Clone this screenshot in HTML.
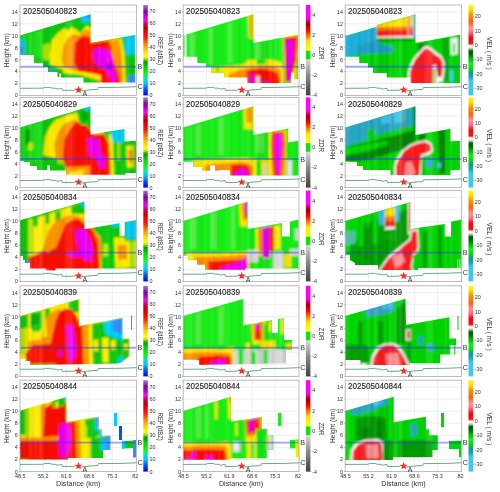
<!DOCTYPE html>
<html><head><meta charset="utf-8"><style>
html,body{margin:0;padding:0;background:#fff;}
svg{display:block;font-family:"Liberation Sans", sans-serif;will-change:transform;}
</style></head><body>
<svg width="500" height="492" viewBox="0 0 500 492">
<defs><linearGradient id="cb0" x1="0" y1="0" x2="0" y2="1"><stop offset="0.0000" stop-color="#9080e0"/><stop offset="0.0728" stop-color="#8000a0"/><stop offset="0.1656" stop-color="#ff00ff"/><stop offset="0.2053" stop-color="#d00060"/><stop offset="0.2583" stop-color="#c00000"/><stop offset="0.3113" stop-color="#ff0000"/><stop offset="0.3642" stop-color="#ff2000"/><stop offset="0.4305" stop-color="#ff8000"/><stop offset="0.4967" stop-color="#ffc800"/><stop offset="0.5629" stop-color="#ffff00"/><stop offset="0.5894" stop-color="#c8e600"/><stop offset="0.6291" stop-color="#00a000"/><stop offset="0.6954" stop-color="#00e000"/><stop offset="0.7616" stop-color="#00ff00"/><stop offset="0.8013" stop-color="#00f0a0"/><stop offset="0.8675" stop-color="#00c8ff"/><stop offset="0.9338" stop-color="#0050ff"/><stop offset="1.0000" stop-color="#0000f0"/></linearGradient><linearGradient id="cb1" x1="0" y1="0" x2="0" y2="1"><stop offset="0.0000" stop-color="#ff00ff"/><stop offset="0.1444" stop-color="#ff00ff"/><stop offset="0.2111" stop-color="#a00000"/><stop offset="0.2778" stop-color="#ff0000"/><stop offset="0.3556" stop-color="#ff9000"/><stop offset="0.4000" stop-color="#ffe000"/><stop offset="0.5000" stop-color="#f8ff00"/><stop offset="0.5133" stop-color="#10e010"/><stop offset="0.5978" stop-color="#10e010"/><stop offset="0.6056" stop-color="#d8d8d8"/><stop offset="0.7778" stop-color="#8a8a8a"/><stop offset="1.0000" stop-color="#404040"/></linearGradient><linearGradient id="cb2" x1="0" y1="0" x2="0" y2="1"><stop offset="0.0000" stop-color="#ffff00"/><stop offset="0.0476" stop-color="#ffe000"/><stop offset="0.1111" stop-color="#ff9000"/><stop offset="0.1905" stop-color="#ff6010"/><stop offset="0.2540" stop-color="#ff9090"/><stop offset="0.3016" stop-color="#ff7080"/><stop offset="0.3651" stop-color="#ff0000"/><stop offset="0.4286" stop-color="#ff1010"/><stop offset="0.4444" stop-color="#ffd0d0"/><stop offset="0.4603" stop-color="#ffffff"/><stop offset="0.4841" stop-color="#a0c8a0"/><stop offset="0.5079" stop-color="#006000"/><stop offset="0.5397" stop-color="#006800"/><stop offset="0.5873" stop-color="#00b000"/><stop offset="0.6508" stop-color="#10f010"/><stop offset="0.6984" stop-color="#00e000"/><stop offset="0.7460" stop-color="#109890"/><stop offset="0.7937" stop-color="#20a0b8"/><stop offset="0.8413" stop-color="#38c8f0"/><stop offset="1.0000" stop-color="#40c8f0"/></linearGradient><pattern id="stp" patternUnits="userSpaceOnUse" x="0" y="0" width="120" height="500"><rect x="0.00" y="0" width="1.38" height="500" fill="#000" fill-opacity="0.076"/><rect x="1.38" y="0" width="0.93" height="500" fill="#fff" fill-opacity="0.077"/><rect x="2.31" y="0" width="0.90" height="500" fill="#fff" fill-opacity="0.044"/><rect x="3.22" y="0" width="1.58" height="500" fill="#000" fill-opacity="0.036"/><rect x="6.36" y="0" width="1.02" height="500" fill="#000" fill-opacity="0.074"/><rect x="7.39" y="0" width="2.51" height="500" fill="#fff" fill-opacity="0.080"/><rect x="9.89" y="0" width="2.56" height="500" fill="#000" fill-opacity="0.090"/><rect x="12.45" y="0" width="1.32" height="500" fill="#000" fill-opacity="0.038"/><rect x="15.12" y="0" width="1.13" height="500" fill="#fff" fill-opacity="0.104"/><rect x="16.25" y="0" width="1.47" height="500" fill="#fff" fill-opacity="0.046"/><rect x="17.72" y="0" width="0.91" height="500" fill="#000" fill-opacity="0.078"/><rect x="18.63" y="0" width="1.57" height="500" fill="#000" fill-opacity="0.071"/><rect x="20.20" y="0" width="1.62" height="500" fill="#000" fill-opacity="0.086"/><rect x="21.81" y="0" width="2.06" height="500" fill="#000" fill-opacity="0.070"/><rect x="25.62" y="0" width="2.11" height="500" fill="#000" fill-opacity="0.099"/><rect x="27.73" y="0" width="1.01" height="500" fill="#000" fill-opacity="0.083"/><rect x="28.74" y="0" width="1.07" height="500" fill="#fff" fill-opacity="0.044"/><rect x="29.82" y="0" width="2.00" height="500" fill="#fff" fill-opacity="0.097"/><rect x="31.82" y="0" width="2.38" height="500" fill="#000" fill-opacity="0.079"/><rect x="34.19" y="0" width="1.87" height="500" fill="#fff" fill-opacity="0.086"/><rect x="38.38" y="0" width="1.65" height="500" fill="#fff" fill-opacity="0.046"/><rect x="40.03" y="0" width="2.06" height="500" fill="#fff" fill-opacity="0.139"/><rect x="42.09" y="0" width="2.28" height="500" fill="#000" fill-opacity="0.057"/><rect x="44.37" y="0" width="2.00" height="500" fill="#000" fill-opacity="0.062"/><rect x="46.38" y="0" width="1.10" height="500" fill="#000" fill-opacity="0.034"/><rect x="47.48" y="0" width="2.18" height="500" fill="#000" fill-opacity="0.047"/><rect x="51.16" y="0" width="0.95" height="500" fill="#000" fill-opacity="0.068"/><rect x="54.50" y="0" width="2.36" height="500" fill="#000" fill-opacity="0.059"/><rect x="58.30" y="0" width="2.52" height="500" fill="#000" fill-opacity="0.042"/><rect x="60.82" y="0" width="1.22" height="500" fill="#000" fill-opacity="0.064"/><rect x="62.04" y="0" width="1.86" height="500" fill="#000" fill-opacity="0.030"/><rect x="63.90" y="0" width="1.55" height="500" fill="#000" fill-opacity="0.070"/><rect x="65.46" y="0" width="2.52" height="500" fill="#fff" fill-opacity="0.092"/><rect x="67.97" y="0" width="1.91" height="500" fill="#fff" fill-opacity="0.045"/><rect x="69.88" y="0" width="2.42" height="500" fill="#fff" fill-opacity="0.127"/><rect x="72.30" y="0" width="2.24" height="500" fill="#000" fill-opacity="0.058"/><rect x="74.54" y="0" width="0.99" height="500" fill="#fff" fill-opacity="0.046"/><rect x="75.53" y="0" width="0.92" height="500" fill="#000" fill-opacity="0.041"/><rect x="76.45" y="0" width="1.41" height="500" fill="#000" fill-opacity="0.030"/><rect x="77.86" y="0" width="1.07" height="500" fill="#000" fill-opacity="0.055"/><rect x="79.78" y="0" width="1.91" height="500" fill="#000" fill-opacity="0.048"/><rect x="81.68" y="0" width="1.43" height="500" fill="#000" fill-opacity="0.039"/><rect x="85.44" y="0" width="1.64" height="500" fill="#fff" fill-opacity="0.049"/><rect x="87.07" y="0" width="0.98" height="500" fill="#000" fill-opacity="0.049"/><rect x="88.06" y="0" width="2.29" height="500" fill="#000" fill-opacity="0.032"/><rect x="90.35" y="0" width="2.51" height="500" fill="#fff" fill-opacity="0.055"/><rect x="92.86" y="0" width="1.78" height="500" fill="#000" fill-opacity="0.067"/><rect x="97.20" y="0" width="2.05" height="500" fill="#000" fill-opacity="0.056"/><rect x="99.25" y="0" width="1.10" height="500" fill="#fff" fill-opacity="0.093"/><rect x="100.35" y="0" width="2.20" height="500" fill="#000" fill-opacity="0.046"/><rect x="107.15" y="0" width="2.27" height="500" fill="#fff" fill-opacity="0.063"/><rect x="109.43" y="0" width="1.73" height="500" fill="#000" fill-opacity="0.032"/><rect x="111.16" y="0" width="0.85" height="500" fill="#000" fill-opacity="0.048"/><rect x="118.24" y="0" width="1.46" height="500" fill="#000" fill-opacity="0.046"/><rect x="119.69" y="0" width="1.15" height="500" fill="#000" fill-opacity="0.074"/></pattern><filter id="bl" x="-5%" y="-5%" width="110%" height="110%"><feGaussianBlur stdDeviation="1.1"/></filter><clipPath id="env00"><polygon points="20.00,35.50 90.75,14.25 90.75,42.75 135.25,35.00 135.25,82.50 83.50,82.50 83.50,77.50 61.00,77.50 61.00,73.50 59.25,73.50 59.25,77.00 57.50,77.00 57.50,72.00 48.00,72.00 48.00,67.00 43.00,67.00 43.00,63.25 34.00,63.25 34.00,55.00 20.00,55.00"/></clipPath><clipPath id="cp00"><rect x="20.0" y="5.0" width="116.40" height="90.40"/></clipPath><clipPath id="env01"><polygon points="183.00,35.50 253.50,14.25 253.50,43.00 298.00,34.75 298.00,79.25 291.00,79.25 291.00,83.00 247.25,83.00 247.25,77.50 224.00,77.50 224.00,73.00 211.00,73.00 211.00,66.75 206.00,66.75 206.00,63.00 197.25,63.00 197.25,56.75 183.00,56.75"/></clipPath><clipPath id="cp01"><rect x="183.2" y="5.0" width="115.80" height="90.40"/></clipPath><clipPath id="env02"><polygon points="345.00,36.00 376.75,26.75 376.75,25.00 415.50,14.25 415.50,43.00 460.00,34.75 460.00,83.00 410.50,83.00 410.50,77.50 386.75,77.50 386.75,73.00 373.00,73.00 373.00,67.50 368.00,67.50 368.00,63.00 359.25,63.00 359.25,56.75 345.00,56.75"/></clipPath><clipPath id="cp02"><rect x="345.2" y="5.0" width="116.40" height="90.40"/></clipPath><clipPath id="env10"><polygon points="20.00,127.50 90.50,106.25 90.50,134.50 124.50,129.00 124.50,141.50 136.00,140.75 136.00,173.00 125.50,173.00 125.50,174.75 66.00,174.75 66.00,170.50 50.00,170.50 50.00,165.50 47.00,165.50 47.00,170.00 37.00,170.00 37.00,166.00 30.00,166.00 30.00,162.00 24.00,162.00 24.00,161.00 20.00,161.00"/></clipPath><clipPath id="cp10"><rect x="20.0" y="97.4" width="116.40" height="90.20"/></clipPath><clipPath id="env11"><polygon points="183.00,127.50 253.50,106.25 253.50,135.00 288.25,128.50 288.25,142.50 298.50,140.75 298.50,175.50 230.00,175.50 230.00,170.00 219.00,170.00 219.00,170.75 215.00,170.75 215.00,165.50 210.00,165.50 210.00,170.75 202.00,170.75 202.00,167.00 193.00,167.00 193.00,161.75 183.00,161.75"/></clipPath><clipPath id="cp11"><rect x="183.2" y="97.4" width="115.80" height="90.20"/></clipPath><clipPath id="env12"><polygon points="345.00,127.50 415.50,106.25 415.50,135.00 450.50,128.75 450.50,141.25 460.00,140.75 460.00,170.00 450.50,170.00 450.50,175.00 390.50,175.00 390.50,170.00 363.00,170.00 363.00,166.00 357.00,166.00 357.00,162.00 345.00,161.50"/></clipPath><clipPath id="cp12"><rect x="345.2" y="97.4" width="116.40" height="90.20"/></clipPath><clipPath id="env20"><polygon points="20.00,220.25 84.50,201.50 84.50,229.25 119.50,223.25 119.50,235.75 124.75,235.75 124.75,222.25 136.50,220.00 136.50,268.50 55.50,268.50 55.50,270.50 45.50,270.50 45.50,268.50 30.00,268.50 30.00,263.00 25.00,263.00 25.00,260.00 23.00,260.00 23.00,256.00 20.00,256.00"/></clipPath><clipPath id="cp20"><rect x="20.0" y="190.6" width="116.40" height="90.80"/></clipPath><clipPath id="env21"><polygon points="183.00,221.00 247.75,201.50 247.75,229.00 282.00,223.00 282.00,236.50 290.00,236.50 290.00,221.75 298.50,219.50 298.50,268.50 245.00,268.50 245.00,269.75 205.00,269.75 205.00,264.75 197.00,264.75 197.00,260.25 188.00,260.25 188.00,255.75 183.00,255.75"/></clipPath><clipPath id="cp21"><rect x="183.2" y="190.6" width="115.80" height="90.80"/></clipPath><clipPath id="env22"><polygon points="345.00,221.00 410.50,202.00 410.50,229.00 444.75,224.00 444.75,236.50 451.00,236.50 451.00,221.75 461.50,219.50 461.50,268.00 418.00,268.00 418.00,270.00 378.00,270.00 378.00,265.00 355.00,265.00 355.00,263.00 350.00,260.00 350.00,255.00 345.00,255.00"/></clipPath><clipPath id="cp22"><rect x="345.2" y="190.6" width="116.40" height="90.80"/></clipPath><clipPath id="env30"><polygon points="20.00,316.00 79.00,299.00 79.00,326.00 122.75,317.50 122.75,338.50 129.50,338.50 129.50,356.50 125.50,359.00 123.00,362.00 118.00,363.50 30.00,365.00 30.00,361.00 25.00,361.00 25.00,359.00 20.00,359.00"/></clipPath><clipPath id="cp30"><rect x="20.0" y="285.8" width="116.40" height="90.60"/></clipPath><clipPath id="env31"><polygon points="183.00,316.00 243.00,299.00 243.00,325.50 272.00,320.00 272.00,333.00 278.00,333.00 278.00,319.00 284.00,318.00 284.00,340.00 292.00,340.00 292.00,350.00 286.00,350.00 286.00,363.25 193.00,365.00 193.00,359.75 183.00,359.75"/></clipPath><clipPath id="cp31"><rect x="183.2" y="285.8" width="115.80" height="90.60"/></clipPath><clipPath id="env32"><polygon points="345.00,316.00 405.50,298.75 406.00,325.00 449.25,317.25 449.25,338.50 456.00,338.50 456.00,345.25 449.25,345.25 449.25,354.50 440.25,354.50 440.25,363.25 410.00,363.25 410.00,365.00 360.50,365.00 360.50,360.00 345.00,360.00"/></clipPath><clipPath id="cp32"><rect x="345.2" y="285.8" width="116.40" height="90.60"/></clipPath><clipPath id="env40"><polygon points="20.00,410.50 66.50,397.00 66.50,422.00 99.00,416.50 99.00,429.00 102.25,429.00 102.25,435.50 110.75,435.50 110.75,450.00 103.00,450.00 103.00,458.00 68.00,458.00 68.00,459.50 20.00,459.50"/></clipPath><clipPath id="cp40"><rect x="20.0" y="380.2" width="116.40" height="91.40"/></clipPath><clipPath id="env41"><polygon points="183.00,411.00 231.00,396.75 231.00,421.75 262.00,416.75 262.00,429.00 266.75,429.00 266.75,435.00 273.50,435.00 273.50,450.00 266.75,450.00 266.75,458.25 231.00,458.25 231.00,459.75 183.00,459.75"/></clipPath><clipPath id="cp41"><rect x="183.2" y="380.2" width="115.80" height="91.40"/></clipPath><clipPath id="env42"><polygon points="345.00,411.00 393.75,396.75 393.75,422.25 426.00,416.75 426.00,429.25 429.25,429.25 429.25,435.25 437.75,435.25 437.75,450.00 432.50,450.00 432.50,457.25 393.00,457.25 393.00,460.00 345.00,460.00"/></clipPath><clipPath id="cp42"><rect x="345.2" y="380.2" width="116.40" height="91.40"/></clipPath></defs>
<rect width="500" height="492" fill="#fff"/>
<g stroke="#ececec" stroke-width="0.9"><line x1="20.0" y1="83.47" x2="136.4" y2="83.47"/><line x1="20.0" y1="71.53" x2="136.4" y2="71.53"/><line x1="20.0" y1="59.60" x2="136.4" y2="59.60"/><line x1="20.0" y1="47.66" x2="136.4" y2="47.66"/><line x1="20.0" y1="35.73" x2="136.4" y2="35.73"/><line x1="20.0" y1="23.80" x2="136.4" y2="23.80"/><line x1="20.0" y1="11.86" x2="136.4" y2="11.86"/><line x1="43.35" y1="5.0" x2="43.35" y2="95.4"/><line x1="66.35" y1="5.0" x2="66.35" y2="95.4"/><line x1="89.36" y1="5.0" x2="89.36" y2="95.4"/><line x1="112.36" y1="5.0" x2="112.36" y2="95.4"/></g>
<g clip-path="url(#cp00)"><g clip-path="url(#env00)"><g filter="url(#bl)"><rect x="15.0" y="0.0" width="126.4" height="100.4" fill="#10cc10"/><polygon points="16.50,35.50 43.00,30.50 43.00,56.75 16.50,56.75" fill="#14e014"/><polygon points="15.75,40.50 25.00,40.00 25.00,54.25 15.75,54.25" fill="#00d0f8"/><polygon points="16.50,46.75 23.00,46.75 23.00,53.00 16.50,53.00" fill="#3090ff"/><polygon points="50.50,25.50 90.75,14.25 90.75,28.00 85.50,26.75 80.50,30.50 74.25,27.50 68.00,29.25 63.00,28.00 53.00,35.50" fill="#10cc10"/><polygon points="80.50,16.00 91.00,13.00 91.00,21.75 81.75,23.00" fill="#00d0f8"/><polygon points="85.50,15.00 90.50,14.00 90.50,18.50 86.00,19.00" fill="#3090ff"/><polygon points="43.00,45.00 50.00,43.00 50.00,60.00 43.00,60.00" fill="#b8e800"/><polygon points="50.00,53.00 51.75,40.50 58.00,33.00 64.25,28.00 68.00,30.50 71.75,26.75 75.50,29.25 80.50,33.00 86.75,25.50 90.75,28.00 90.75,42.75 100.50,41.00 108.00,40.00 121.50,38.00 124.50,55.00 126.00,86.00 100.50,86.00 85.50,76.75 70.50,71.75 58.00,68.50 50.00,64.25" fill="#ffee00"/><polygon points="62.00,60.50 63.50,45.50 68.00,38.00 73.00,34.25 79.25,35.50 85.00,29.25 90.75,31.75 90.75,43.00 108.00,41.00 118.50,39.50 121.50,55.00 123.00,75.50 122.50,86.00 98.00,86.00 85.50,75.50 71.75,70.00 64.25,66.75" fill="#ff9800"/><polygon points="74.00,63.00 75.00,43.00 79.25,38.00 85.50,35.50 90.75,38.00 90.75,43.00 104.25,41.00 109.00,40.50 112.00,55.00 115.00,65.00 119.00,75.00 120.00,86.00 98.00,86.00 84.25,75.50 78.00,70.50" fill="#ff1000"/><polygon points="93.00,50.50 98.00,48.00 104.25,48.50 110.50,51.75 113.00,60.50 114.00,70.00 116.50,75.50 115.50,83.00 111.00,81.50 105.50,70.50 98.00,65.50 93.00,60.50" fill="#f000f0"/><polygon points="105.50,64.25 110.50,63.00 112.00,68.50 108.00,70.50" fill="#a000c0"/><polygon points="121.50,38.00 138.75,35.00 138.75,86.00 126.50,86.00 125.00,55.00" fill="#10cc10"/><polygon points="124.00,36.75 138.75,35.00 138.75,54.25 125.50,55.00" fill="#00d0f8"/><polygon points="128.00,75.50 138.75,75.00 138.75,86.50 128.00,86.50" fill="#3090ff"/><polygon points="43.00,63.25 65.50,70.50 83.50,75.00 100.50,82.00 102.50,86.50 43.00,86.50" fill="#10cc10"/><polygon points="63.00,69.50 83.50,72.00 100.50,75.00 101.00,81.50 83.50,75.50 63.00,73.00" fill="#ffee00"/><polygon points="50.50,68.50 53.50,68.50 53.50,73.00 50.50,73.00" fill="#3090ff"/><polygon points="76.00,81.50 79.50,81.50 79.50,86.50 76.00,86.50" fill="#3090ff"/><rect x="15.0" y="0.0" width="126.4" height="100.4" fill="url(#stp)"/></g></g></g>
<line x1="20.0" y1="66.76" x2="136.4" y2="66.76" stroke="#3030ff" stroke-opacity="0.45" stroke-width="1.9"/>
<rect x="20.0" y="5.0" width="116.40" height="90.40" fill="none" stroke="#b0b0b0" stroke-width="0.85"/>
<g font-size="5.4" fill="#333" text-anchor="end"><text x="17.80" y="97.30">0</text><text x="17.80" y="85.37">2</text><text x="17.80" y="73.43">4</text><text x="17.80" y="61.50">6</text><text x="17.80" y="49.56">8</text><text x="17.80" y="37.63">10</text><text x="17.80" y="25.70">12</text><text x="17.80" y="13.76">14</text></g>
<g stroke="#888" stroke-width="0.5"><line x1="19.0" y1="95.40" x2="20.0" y2="95.40"/><line x1="19.0" y1="83.47" x2="20.0" y2="83.47"/><line x1="19.0" y1="71.53" x2="20.0" y2="71.53"/><line x1="19.0" y1="59.60" x2="20.0" y2="59.60"/><line x1="19.0" y1="47.66" x2="20.0" y2="47.66"/><line x1="19.0" y1="35.73" x2="20.0" y2="35.73"/><line x1="19.0" y1="23.80" x2="20.0" y2="23.80"/><line x1="19.0" y1="11.86" x2="20.0" y2="11.86"/></g>
<text transform="translate(9.30,50.20) rotate(-90)" text-anchor="middle" font-size="7.2" fill="#333" textLength="34" lengthAdjust="spacingAndGlyphs">Height (km)</text>
<text x="22.90" y="14.20" font-size="9" fill="#222" stroke="#222" stroke-width="0.12" textLength="54" lengthAdjust="spacingAndGlyphs">202505040823</text>
<rect x="143.30" y="5.0" width="4.5" height="90.40" fill="url(#cb0)"/>
<g font-size="5.4" fill="#333"><text x="149.60" y="97.30">0</text><text x="149.60" y="85.33">10</text><text x="149.60" y="73.35">20</text><text x="149.60" y="61.38">30</text><text x="149.60" y="49.41">40</text><text x="149.60" y="37.43">50</text><text x="149.60" y="25.46">60</text><text x="149.60" y="13.49">70</text></g>
<g stroke="#666" stroke-width="0.5"><line x1="147.80" y1="95.40" x2="148.80" y2="95.40"/><line x1="147.80" y1="83.43" x2="148.80" y2="83.43"/><line x1="147.80" y1="71.45" x2="148.80" y2="71.45"/><line x1="147.80" y1="59.48" x2="148.80" y2="59.48"/><line x1="147.80" y1="47.51" x2="148.80" y2="47.51"/><line x1="147.80" y1="35.53" x2="148.80" y2="35.53"/><line x1="147.80" y1="23.56" x2="148.80" y2="23.56"/><line x1="147.80" y1="11.59" x2="148.80" y2="11.59"/></g>
<text transform="translate(157.80,51.00) rotate(90)" text-anchor="middle" font-size="7.4" fill="#333" textLength="28" lengthAdjust="spacingAndGlyphs">REF (dBZ)</text>
<polyline points="20.00,88.30 42.80,88.18 44.50,87.40 50.30,87.40 52.00,88.18 55.00,88.18 57.00,88.84 58.50,89.02 60.80,88.30 61.80,88.30 62.30,90.39 73.80,90.21 75.70,89.49 77.00,89.73 80.00,90.92 84.00,90.63 89.00,89.91 96.00,89.49 97.50,89.43 98.30,87.52 121.00,87.28 136.40,86.69" fill="none" stroke="#3c8c5c" stroke-width="0.75"/>
<polygon points="78.50,85.81 79.53,88.49 82.40,88.64 80.16,90.45 80.91,93.23 78.50,91.66 76.09,93.23 76.84,90.45 74.60,88.64 77.47,88.49" fill="#ff2a2a"/>
<text x="84.80" y="95.70" font-size="7" fill="#333" text-anchor="middle">A</text>
<text x="137.60" y="89.29" font-size="7.2" fill="#333">C</text>
<text x="137.60" y="69.46" font-size="7.2" fill="#333">B</text>
<g stroke="#ececec" stroke-width="0.9"><line x1="183.2" y1="83.47" x2="299.0" y2="83.47"/><line x1="183.2" y1="71.53" x2="299.0" y2="71.53"/><line x1="183.2" y1="59.60" x2="299.0" y2="59.60"/><line x1="183.2" y1="47.66" x2="299.0" y2="47.66"/><line x1="183.2" y1="35.73" x2="299.0" y2="35.73"/><line x1="183.2" y1="23.80" x2="299.0" y2="23.80"/><line x1="183.2" y1="11.86" x2="299.0" y2="11.86"/><line x1="206.43" y1="5.0" x2="206.43" y2="95.4"/><line x1="229.32" y1="5.0" x2="229.32" y2="95.4"/><line x1="252.20" y1="5.0" x2="252.20" y2="95.4"/><line x1="275.09" y1="5.0" x2="275.09" y2="95.4"/></g>
<g clip-path="url(#cp01)"><g clip-path="url(#env01)"><g filter="url(#bl)"><rect x="178.2" y="0.0" width="125.80000000000001" height="100.4" fill="#16f016"/><polygon points="191.00,34.25 194.75,33.50 194.75,56.75 191.00,56.75" fill="#58f048"/><polygon points="208.50,29.25 212.25,28.00 212.25,64.25 208.50,64.25" fill="#58f048"/><polygon points="228.50,23.00 232.25,21.75 232.25,63.00 228.50,63.00" fill="#58f048"/><polygon points="256.00,43.00 261.00,42.50 261.00,60.50 256.00,60.50" fill="#58f048"/><polygon points="246.50,16.75 248.00,16.75 248.00,38.00 246.50,38.00" fill="#58f048"/><polygon points="248.00,16.00 253.50,14.25 253.50,39.25 249.00,38.00" fill="#ffe800"/><polygon points="249.50,16.00 251.75,15.50 251.75,36.75 250.00,36.75" fill="#ff9000"/><polygon points="211.00,67.50 231.00,66.00 243.50,64.50 248.00,60.00 263.50,59.25 273.50,60.00 282.25,63.00 283.50,81.50 281.00,87.00 247.25,87.00 247.25,81.00 224.00,81.00 224.00,73.00 211.00,73.00" fill="#ffe800"/><polygon points="216.00,64.25 219.00,64.25 219.00,71.75 216.00,71.75" fill="#16f016"/><polygon points="256.00,59.25 266.00,59.25 266.00,64.25 256.00,64.25" fill="#16f016"/><polygon points="228.50,74.25 238.50,70.50 246.50,68.50 256.00,67.00 266.00,66.00 276.00,67.00 281.00,70.50 281.00,87.00 247.25,87.00 247.25,81.00 228.50,81.00" fill="#ff9000"/><polygon points="246.50,71.00 256.00,69.00 263.50,69.00 271.00,70.50 277.25,73.00 279.75,81.50 278.50,87.00 247.25,87.00" fill="#ff1000"/><polygon points="249.00,74.75 253.50,73.75 255.00,84.50 250.00,85.50" fill="#f000f0"/><polygon points="262.50,82.00 267.50,81.50 268.50,87.00 262.50,87.00" fill="#f000f0"/><polygon points="256.00,76.00 260.00,75.50 260.50,87.00 256.00,87.00" fill="#d8d8d8"/><polygon points="283.00,36.75 302.00,34.25 302.00,81.50 284.00,81.50" fill="#ffe800"/><polygon points="284.50,38.00 301.50,35.50 296.50,60.50 285.50,81.50" fill="#ff9000"/><polygon points="284.50,38.00 296.50,36.75 295.50,61.75 291.00,81.50 285.50,81.50" fill="#ff1000"/><polygon points="285.50,40.50 293.50,39.50 294.00,55.50 292.00,63.00 290.00,81.50 287.00,81.50 286.00,58.00" fill="#f000f0"/><polygon points="296.50,56.75 302.00,56.75 302.00,82.75 296.50,82.75" fill="#16f016"/><rect x="178.2" y="0.0" width="125.80000000000001" height="100.4" fill="url(#stp)"/></g></g><polygon points="184.50,35.00 186.50,34.50 186.50,57.00 184.50,57.00" fill="#ffffff"/><polygon points="291.25,72.50 294.00,72.50 294.00,82.50 291.25,82.50" fill="#ffffff"/></g>
<line x1="183.2" y1="66.76" x2="299.0" y2="66.76" stroke="#3030ff" stroke-opacity="0.45" stroke-width="1.9"/>
<rect x="183.2" y="5.0" width="115.80" height="90.40" fill="none" stroke="#b0b0b0" stroke-width="0.85"/>
<g font-size="5.4" fill="#333" text-anchor="end"><text x="181.00" y="97.30">0</text><text x="181.00" y="85.37">2</text><text x="181.00" y="73.43">4</text><text x="181.00" y="61.50">6</text><text x="181.00" y="49.56">8</text><text x="181.00" y="37.63">10</text><text x="181.00" y="25.70">12</text><text x="181.00" y="13.76">14</text></g>
<g stroke="#888" stroke-width="0.5"><line x1="182.2" y1="95.40" x2="183.2" y2="95.40"/><line x1="182.2" y1="83.47" x2="183.2" y2="83.47"/><line x1="182.2" y1="71.53" x2="183.2" y2="71.53"/><line x1="182.2" y1="59.60" x2="183.2" y2="59.60"/><line x1="182.2" y1="47.66" x2="183.2" y2="47.66"/><line x1="182.2" y1="35.73" x2="183.2" y2="35.73"/><line x1="182.2" y1="23.80" x2="183.2" y2="23.80"/><line x1="182.2" y1="11.86" x2="183.2" y2="11.86"/></g>
<text transform="translate(172.50,50.20) rotate(-90)" text-anchor="middle" font-size="7.2" fill="#333" textLength="34" lengthAdjust="spacingAndGlyphs">Height (km)</text>
<text x="186.10" y="14.20" font-size="9" fill="#222" stroke="#222" stroke-width="0.12" textLength="54" lengthAdjust="spacingAndGlyphs">202505040823</text>
<rect x="305.90" y="5.0" width="4.5" height="90.40" fill="url(#cb1)"/>
<g font-size="5.4" fill="#333"><text x="312.20" y="97.30">-4</text><text x="312.20" y="77.21">-2</text><text x="312.20" y="57.12">0</text><text x="312.20" y="37.03">2</text><text x="312.20" y="16.94">4</text></g>
<g stroke="#666" stroke-width="0.5"><line x1="310.40" y1="95.40" x2="311.40" y2="95.40"/><line x1="310.40" y1="75.31" x2="311.40" y2="75.31"/><line x1="310.40" y1="55.22" x2="311.40" y2="55.22"/><line x1="310.40" y1="35.13" x2="311.40" y2="35.13"/><line x1="310.40" y1="15.04" x2="311.40" y2="15.04"/></g>
<text transform="translate(319.30,53.20) rotate(90)" text-anchor="middle" font-size="7.4" fill="#333" textLength="13" lengthAdjust="spacingAndGlyphs">ZDR</text>
<polyline points="183.20,88.30 206.00,88.18 207.70,87.40 213.50,87.40 215.20,88.18 218.20,88.18 220.20,88.84 221.70,89.02 224.00,88.30 225.00,88.30 225.50,90.39 237.00,90.21 238.90,89.49 240.20,89.73 243.20,90.92 247.20,90.63 252.20,89.91 259.20,89.49 260.70,89.43 261.50,87.52 284.20,87.28 299.60,86.69" fill="none" stroke="#3c8c5c" stroke-width="0.75"/>
<polygon points="241.70,85.81 242.73,88.49 245.60,88.64 243.36,90.45 244.11,93.23 241.70,91.66 239.29,93.23 240.04,90.45 237.80,88.64 240.67,88.49" fill="#ff2a2a"/>
<text x="248.00" y="95.70" font-size="7" fill="#333" text-anchor="middle">A</text>
<text x="300.20" y="89.29" font-size="7.2" fill="#333">C</text>
<text x="300.20" y="69.46" font-size="7.2" fill="#333">B</text>
<g stroke="#ececec" stroke-width="0.9"><line x1="345.2" y1="83.47" x2="461.6" y2="83.47"/><line x1="345.2" y1="71.53" x2="461.6" y2="71.53"/><line x1="345.2" y1="59.60" x2="461.6" y2="59.60"/><line x1="345.2" y1="47.66" x2="461.6" y2="47.66"/><line x1="345.2" y1="35.73" x2="461.6" y2="35.73"/><line x1="345.2" y1="23.80" x2="461.6" y2="23.80"/><line x1="345.2" y1="11.86" x2="461.6" y2="11.86"/><line x1="368.55" y1="5.0" x2="368.55" y2="95.4"/><line x1="391.55" y1="5.0" x2="391.55" y2="95.4"/><line x1="414.56" y1="5.0" x2="414.56" y2="95.4"/><line x1="437.56" y1="5.0" x2="437.56" y2="95.4"/></g>
<g clip-path="url(#cp02)"><g clip-path="url(#env02)"><g filter="url(#bl)"><rect x="340.2" y="0.0" width="126.40000000000003" height="100.4" fill="#00d800"/><polygon points="341.50,36.00 376.75,26.75 376.75,40.50 380.50,44.25 393.00,46.00 393.00,51.75 375.50,53.00 358.00,54.25 341.50,57.50" fill="#1eb0dc"/><polygon points="358.00,45.50 376.75,40.50 380.50,45.50 393.00,48.00 393.00,52.50 375.50,53.50 358.00,54.50" fill="#20a0c8"/><polygon points="376.75,25.00 413.00,15.00 413.00,27.00 376.75,27.50" fill="#ffe800"/><polygon points="376.75,27.00 413.00,26.50 413.00,30.50 376.75,31.00" fill="#ff8000"/><polygon points="376.75,30.50 413.00,30.00 413.00,36.50 376.75,37.00" fill="#ff2020"/><polygon points="376.75,36.50 413.00,36.00 413.00,38.25 376.75,38.75" fill="#ffffff"/><polygon points="376.75,38.50 413.00,38.00 413.00,40.50 376.75,41.00" fill="#008a00"/><polygon points="413.00,14.25 416.00,13.50 416.00,36.75 413.00,36.75" fill="#40c8f0"/><polygon points="407.50,16.75 410.00,16.00 410.00,35.50 407.50,35.50" fill="#ffffff"/><polygon points="408.25,16.75 409.50,16.50 409.50,35.00 408.25,35.00" fill="#ff2020"/><polygon points="418.00,44.25 428.00,43.00 425.50,53.00 418.00,53.00" fill="#008a00"/><polygon points="443.00,38.00 448.00,37.50 448.00,81.50 443.00,81.50" fill="#00a800"/><polygon points="450.50,38.50 457.50,37.50 457.50,54.25 451.00,55.00" fill="#ffffff"/><polygon points="453.00,43.00 455.00,43.00 455.00,53.00 453.00,53.00" fill="#00b000"/><polygon points="425.50,45.50 431.00,48.00 436.50,52.50 441.50,56.00 444.50,62.00 444.50,70.50 443.00,81.50 438.00,82.50 436.00,86.50 407.50,87.00 408.00,72.00 410.00,65.50 413.50,58.50 418.00,53.00 422.00,48.50" fill="#ffffff"/><polygon points="426.50,48.00 430.00,50.00 435.00,54.50 440.00,57.50 442.50,62.00 442.50,70.00 441.50,76.50 437.50,77.00 436.00,65.50 433.00,65.00 433.00,87.00 409.50,87.00 410.00,72.00 412.00,66.00 415.00,60.00 419.00,55.00 423.00,50.50" fill="#ff2020"/><polygon points="433.00,65.50 436.00,65.50 436.00,86.00 433.00,86.00" fill="#ffffff"/><polygon points="433.75,68.50 435.50,68.50 435.50,86.00 433.75,86.00" fill="#00d800"/><polygon points="450.00,70.50 453.00,70.50 453.00,81.50 450.00,81.50" fill="#40c8f0"/><rect x="340.2" y="0.0" width="126.40000000000003" height="100.4" fill="url(#stp)"/></g></g></g>
<line x1="345.2" y1="66.76" x2="461.6" y2="66.76" stroke="#3030ff" stroke-opacity="0.45" stroke-width="1.9"/>
<rect x="345.2" y="5.0" width="116.40" height="90.40" fill="none" stroke="#b0b0b0" stroke-width="0.85"/>
<g font-size="5.4" fill="#333" text-anchor="end"><text x="343.00" y="97.30">0</text><text x="343.00" y="85.37">2</text><text x="343.00" y="73.43">4</text><text x="343.00" y="61.50">6</text><text x="343.00" y="49.56">8</text><text x="343.00" y="37.63">10</text><text x="343.00" y="25.70">12</text><text x="343.00" y="13.76">14</text></g>
<g stroke="#888" stroke-width="0.5"><line x1="344.2" y1="95.40" x2="345.2" y2="95.40"/><line x1="344.2" y1="83.47" x2="345.2" y2="83.47"/><line x1="344.2" y1="71.53" x2="345.2" y2="71.53"/><line x1="344.2" y1="59.60" x2="345.2" y2="59.60"/><line x1="344.2" y1="47.66" x2="345.2" y2="47.66"/><line x1="344.2" y1="35.73" x2="345.2" y2="35.73"/><line x1="344.2" y1="23.80" x2="345.2" y2="23.80"/><line x1="344.2" y1="11.86" x2="345.2" y2="11.86"/></g>
<text transform="translate(334.50,50.20) rotate(-90)" text-anchor="middle" font-size="7.2" fill="#333" textLength="34" lengthAdjust="spacingAndGlyphs">Height (km)</text>
<text x="348.10" y="14.20" font-size="9" fill="#222" stroke="#222" stroke-width="0.12" textLength="54" lengthAdjust="spacingAndGlyphs">202505040823</text>
<rect x="468.50" y="5.0" width="4.5" height="90.40" fill="url(#cb2)"/>
<g font-size="5.4" fill="#333"><text x="474.80" y="90.13">-30</text><text x="474.80" y="75.78">-20</text><text x="474.80" y="61.43">-10</text><text x="474.80" y="47.08">0</text><text x="474.80" y="32.73">10</text><text x="474.80" y="18.38">20</text></g>
<g stroke="#666" stroke-width="0.5"><line x1="473.00" y1="88.23" x2="474.00" y2="88.23"/><line x1="473.00" y1="73.88" x2="474.00" y2="73.88"/><line x1="473.00" y1="59.53" x2="474.00" y2="59.53"/><line x1="473.00" y1="45.18" x2="474.00" y2="45.18"/><line x1="473.00" y1="30.83" x2="474.00" y2="30.83"/><line x1="473.00" y1="16.48" x2="474.00" y2="16.48"/></g>
<text transform="translate(487.40,53.20) rotate(90)" text-anchor="middle" font-size="7.4" fill="#333" textLength="33" lengthAdjust="spacingAndGlyphs">VEL ( m/s )</text>
<polyline points="345.20,88.30 368.00,88.18 369.70,87.40 375.50,87.40 377.20,88.18 380.20,88.18 382.20,88.84 383.70,89.02 386.00,88.30 387.00,88.30 387.50,90.39 399.00,90.21 400.90,89.49 402.20,89.73 405.20,90.92 409.20,90.63 414.20,89.91 421.20,89.49 422.70,89.43 423.50,87.52 446.20,87.28 461.60,86.69" fill="none" stroke="#3c8c5c" stroke-width="0.75"/>
<polygon points="403.70,85.81 404.73,88.49 407.60,88.64 405.36,90.45 406.11,93.23 403.70,91.66 401.29,93.23 402.04,90.45 399.80,88.64 402.67,88.49" fill="#ff2a2a"/>
<text x="410.00" y="95.70" font-size="7" fill="#333" text-anchor="middle">A</text>
<text x="462.80" y="89.29" font-size="7.2" fill="#333">C</text>
<text x="462.80" y="69.46" font-size="7.2" fill="#333">B</text>
<g stroke="#ececec" stroke-width="0.9"><line x1="20.0" y1="175.69" x2="136.4" y2="175.69"/><line x1="20.0" y1="163.78" x2="136.4" y2="163.78"/><line x1="20.0" y1="151.88" x2="136.4" y2="151.88"/><line x1="20.0" y1="139.97" x2="136.4" y2="139.97"/><line x1="20.0" y1="128.06" x2="136.4" y2="128.06"/><line x1="20.0" y1="116.15" x2="136.4" y2="116.15"/><line x1="20.0" y1="104.25" x2="136.4" y2="104.25"/><line x1="43.35" y1="97.4" x2="43.35" y2="187.6"/><line x1="66.35" y1="97.4" x2="66.35" y2="187.6"/><line x1="89.36" y1="97.4" x2="89.36" y2="187.6"/><line x1="112.36" y1="97.4" x2="112.36" y2="187.6"/></g>
<g clip-path="url(#cp10)"><g clip-path="url(#env10)"><g filter="url(#bl)"><rect x="15.0" y="92.4" width="126.4" height="100.19999999999999" fill="#10cc10"/><polygon points="16.50,127.50 40.50,122.50 40.50,161.00 16.50,161.00" fill="#14e014"/><polygon points="25.50,130.00 30.50,128.75 30.50,145.00 25.50,145.00" fill="#00a800"/><polygon points="28.00,142.50 33.00,142.50 33.00,150.00 28.00,150.00" fill="#b8e800"/><polygon points="43.00,155.00 45.00,137.50 49.25,127.50 55.50,120.00 68.00,115.00 76.75,112.50 80.50,122.50 85.50,130.00 93.00,132.50 103.00,132.50 108.00,145.00 112.00,160.00 113.00,178.50 68.00,178.50 63.00,160.00 48.00,156.25" fill="#ffee00"/><polygon points="58.00,155.00 65.50,155.00 65.50,163.75 58.00,163.75" fill="#b8e800"/><polygon points="54.25,145.00 58.00,132.50 63.00,125.00 69.25,121.25 76.00,120.00 83.00,126.25 93.00,133.75 104.25,133.75 108.00,152.50 110.50,178.50 68.00,178.50 64.25,162.50 55.50,157.50" fill="#ff9800"/><polygon points="63.00,157.50 64.25,140.00 69.25,130.00 75.50,122.50 84.25,122.50 90.50,130.00 93.00,135.00 104.25,134.50 109.25,145.00 111.00,178.50 68.00,178.50 65.50,167.50" fill="#ff1000"/><polygon points="87.00,138.75 93.00,137.50 99.25,140.00 101.00,152.50 105.00,157.50 105.50,168.00 99.25,168.00 96.00,157.50 88.50,155.00" fill="#f000f0"/><polygon points="77.50,108.75 91.00,105.00 91.00,125.00 80.50,125.00 78.00,118.75" fill="#10cc10"/><polygon points="81.75,112.50 88.00,110.00 88.00,120.00 83.00,121.25" fill="#00a800"/><polygon points="85.50,106.50 91.00,105.50 91.00,110.50 86.00,111.50" fill="#00d0f8"/><polygon points="108.50,134.50 113.00,133.75 114.50,178.50 110.50,178.50" fill="#ffee00"/><polygon points="112.50,132.50 124.50,129.00 124.50,178.25 114.00,178.25" fill="#10cc10"/><polygon points="117.50,137.50 120.00,137.50 120.00,160.00 117.50,160.00" fill="#b8e800"/><polygon points="110.00,131.25 124.50,129.00 124.50,142.50 113.00,142.50" fill="#00d0f8"/><polygon points="126.00,145.00 138.00,144.00 138.00,167.50 127.00,167.50" fill="#ffee00"/><polygon points="128.00,150.00 133.00,149.50 133.00,162.50 128.50,162.50" fill="#ff9800"/><polygon points="124.50,141.50 139.50,140.75 139.50,145.00 124.50,146.25" fill="#10cc10"/><polygon points="133.50,145.00 139.50,145.00 139.50,176.50 133.50,176.50" fill="#10cc10"/><polygon points="58.00,167.50 66.00,167.50 66.00,178.50 58.00,178.50" fill="#10cc10"/><polygon points="66.00,167.00 90.00,166.00 90.00,178.50 66.00,178.50" fill="#ff9800"/><polygon points="68.00,173.00 83.50,169.00 83.50,178.50 68.00,178.50" fill="#ffee00"/><polygon points="16.50,159.50 23.50,159.50 23.50,161.50 16.50,161.50" fill="#00d0f8"/><rect x="15.0" y="92.4" width="126.4" height="100.19999999999999" fill="url(#stp)"/></g></g></g>
<line x1="20.0" y1="159.02" x2="136.4" y2="159.02" stroke="#3030ff" stroke-opacity="0.45" stroke-width="1.9"/>
<rect x="20.0" y="97.4" width="116.40" height="90.20" fill="none" stroke="#b0b0b0" stroke-width="0.85"/>
<g font-size="5.4" fill="#333" text-anchor="end"><text x="17.80" y="189.50">0</text><text x="17.80" y="177.59">2</text><text x="17.80" y="165.68">4</text><text x="17.80" y="153.78">6</text><text x="17.80" y="141.87">8</text><text x="17.80" y="129.96">10</text><text x="17.80" y="118.05">12</text><text x="17.80" y="106.15">14</text></g>
<g stroke="#888" stroke-width="0.5"><line x1="19.0" y1="187.60" x2="20.0" y2="187.60"/><line x1="19.0" y1="175.69" x2="20.0" y2="175.69"/><line x1="19.0" y1="163.78" x2="20.0" y2="163.78"/><line x1="19.0" y1="151.88" x2="20.0" y2="151.88"/><line x1="19.0" y1="139.97" x2="20.0" y2="139.97"/><line x1="19.0" y1="128.06" x2="20.0" y2="128.06"/><line x1="19.0" y1="116.15" x2="20.0" y2="116.15"/><line x1="19.0" y1="104.25" x2="20.0" y2="104.25"/></g>
<text transform="translate(9.30,142.50) rotate(-90)" text-anchor="middle" font-size="7.2" fill="#333" textLength="34" lengthAdjust="spacingAndGlyphs">Height (km)</text>
<text x="22.90" y="106.60" font-size="9" fill="#222" stroke="#222" stroke-width="0.12" textLength="54" lengthAdjust="spacingAndGlyphs">202505040829</text>
<rect x="143.30" y="97.4" width="4.5" height="90.20" fill="url(#cb0)"/>
<g font-size="5.4" fill="#333"><text x="149.60" y="189.50">0</text><text x="149.60" y="177.55">10</text><text x="149.60" y="165.61">20</text><text x="149.60" y="153.66">30</text><text x="149.60" y="141.71">40</text><text x="149.60" y="129.76">50</text><text x="149.60" y="117.82">60</text><text x="149.60" y="105.87">70</text></g>
<g stroke="#666" stroke-width="0.5"><line x1="147.80" y1="187.60" x2="148.80" y2="187.60"/><line x1="147.80" y1="175.65" x2="148.80" y2="175.65"/><line x1="147.80" y1="163.71" x2="148.80" y2="163.71"/><line x1="147.80" y1="151.76" x2="148.80" y2="151.76"/><line x1="147.80" y1="139.81" x2="148.80" y2="139.81"/><line x1="147.80" y1="127.86" x2="148.80" y2="127.86"/><line x1="147.80" y1="115.92" x2="148.80" y2="115.92"/><line x1="147.80" y1="103.97" x2="148.80" y2="103.97"/></g>
<text transform="translate(157.80,143.30) rotate(90)" text-anchor="middle" font-size="7.4" fill="#333" textLength="28" lengthAdjust="spacingAndGlyphs">REF (dBZ)</text>
<polyline points="20.00,180.51 42.80,180.40 44.50,179.62 50.30,179.62 52.00,180.40 55.00,180.40 57.00,181.05 58.50,181.23 60.80,180.51 61.80,180.51 62.30,182.60 73.80,182.42 75.70,181.71 77.00,181.94 80.00,183.13 84.00,182.84 89.00,182.12 96.00,181.71 97.50,181.65 98.30,179.74 121.00,179.50 136.40,178.91" fill="none" stroke="#3c8c5c" stroke-width="0.75"/>
<polygon points="78.50,178.02 79.53,180.71 82.40,180.86 80.16,182.66 80.91,185.44 78.50,183.87 76.09,185.44 76.84,182.66 74.60,180.86 77.47,180.71" fill="#ff2a2a"/>
<text x="84.80" y="187.90" font-size="7" fill="#333" text-anchor="middle">A</text>
<text x="137.60" y="181.51" font-size="7.2" fill="#333">C</text>
<text x="137.60" y="161.72" font-size="7.2" fill="#333">B</text>
<g stroke="#ececec" stroke-width="0.9"><line x1="183.2" y1="175.69" x2="299.0" y2="175.69"/><line x1="183.2" y1="163.78" x2="299.0" y2="163.78"/><line x1="183.2" y1="151.88" x2="299.0" y2="151.88"/><line x1="183.2" y1="139.97" x2="299.0" y2="139.97"/><line x1="183.2" y1="128.06" x2="299.0" y2="128.06"/><line x1="183.2" y1="116.15" x2="299.0" y2="116.15"/><line x1="183.2" y1="104.25" x2="299.0" y2="104.25"/><line x1="206.43" y1="97.4" x2="206.43" y2="187.6"/><line x1="229.32" y1="97.4" x2="229.32" y2="187.6"/><line x1="252.20" y1="97.4" x2="252.20" y2="187.6"/><line x1="275.09" y1="97.4" x2="275.09" y2="187.6"/></g>
<g clip-path="url(#cp11)"><g clip-path="url(#env11)"><g filter="url(#bl)"><rect x="178.2" y="92.4" width="125.80000000000001" height="100.19999999999999" fill="#16f016"/><polygon points="196.00,125.00 201.00,123.75 201.00,155.00 196.00,155.00" fill="#58f048"/><polygon points="218.50,118.75 223.50,117.50 223.50,155.00 218.50,155.00" fill="#58f048"/><polygon points="256.00,135.00 263.50,133.75 263.50,152.50 256.00,152.50" fill="#58f048"/><polygon points="243.50,108.75 253.50,106.50 253.50,130.00 244.00,128.75" fill="#ffe800"/><polygon points="246.50,108.50 252.00,107.50 252.00,122.50 247.00,122.50" fill="#ff9000"/><polygon points="192.25,160.50 211.00,159.50 231.00,158.75 246.00,158.00 256.00,159.50 271.00,160.50 274.00,179.00 230.00,179.00 230.00,173.50 219.00,173.50 219.00,174.25 215.00,174.25 215.00,165.50 210.00,165.50 210.00,174.25 202.00,174.25 202.00,167.00 193.00,167.00" fill="#ffe800"/><polygon points="204.75,165.00 218.50,163.75 231.00,163.00 241.00,162.00 248.50,163.00 253.50,167.50 251.00,179.00 230.00,179.00 230.00,173.50 204.75,173.50" fill="#ff9000"/><polygon points="231.00,165.00 241.00,164.50 248.00,165.50 251.00,173.50 249.75,179.00 231.00,179.00" fill="#ff1000"/><polygon points="233.50,173.00 243.50,167.50 248.50,173.50 248.50,179.00 233.50,179.00" fill="#f000f0"/><polygon points="256.00,160.50 261.00,160.50 261.00,179.00 256.00,179.00" fill="#16f016"/><polygon points="263.50,165.00 267.25,165.00 267.25,177.25 263.50,177.25" fill="#d8d8d8"/><polygon points="269.00,131.50 286.50,130.00 287.50,179.00 269.00,179.00" fill="#ffe800"/><polygon points="271.50,131.50 284.00,131.00 285.50,145.00 283.50,176.50 272.50,176.50 270.50,145.00" fill="#ff9000"/><polygon points="273.00,132.50 282.50,132.00 283.50,145.00 282.00,160.00 281.00,177.00 274.50,177.00 273.00,160.00 272.00,145.00" fill="#ff1000"/><polygon points="275.00,134.00 281.00,134.00 282.50,142.50 282.00,152.50 280.50,160.00 280.00,173.50 277.00,176.00 275.50,160.00 274.00,150.00 274.00,142.50" fill="#f000f0"/><polygon points="286.00,142.50 302.00,140.75 302.00,179.00 286.00,179.00" fill="#16f016"/><polygon points="287.00,160.00 292.25,159.50 292.25,177.25 287.00,177.25" fill="#d8d8d8"/><polygon points="288.00,162.00 291.00,162.00 291.00,174.75 288.00,174.75" fill="#f4f4f4"/><rect x="178.2" y="92.4" width="125.80000000000001" height="100.19999999999999" fill="url(#stp)"/></g></g></g>
<line x1="183.2" y1="159.02" x2="299.0" y2="159.02" stroke="#3030ff" stroke-opacity="0.45" stroke-width="1.9"/>
<rect x="183.2" y="97.4" width="115.80" height="90.20" fill="none" stroke="#b0b0b0" stroke-width="0.85"/>
<g font-size="5.4" fill="#333" text-anchor="end"><text x="181.00" y="189.50">0</text><text x="181.00" y="177.59">2</text><text x="181.00" y="165.68">4</text><text x="181.00" y="153.78">6</text><text x="181.00" y="141.87">8</text><text x="181.00" y="129.96">10</text><text x="181.00" y="118.05">12</text><text x="181.00" y="106.15">14</text></g>
<g stroke="#888" stroke-width="0.5"><line x1="182.2" y1="187.60" x2="183.2" y2="187.60"/><line x1="182.2" y1="175.69" x2="183.2" y2="175.69"/><line x1="182.2" y1="163.78" x2="183.2" y2="163.78"/><line x1="182.2" y1="151.88" x2="183.2" y2="151.88"/><line x1="182.2" y1="139.97" x2="183.2" y2="139.97"/><line x1="182.2" y1="128.06" x2="183.2" y2="128.06"/><line x1="182.2" y1="116.15" x2="183.2" y2="116.15"/><line x1="182.2" y1="104.25" x2="183.2" y2="104.25"/></g>
<text transform="translate(172.50,142.50) rotate(-90)" text-anchor="middle" font-size="7.2" fill="#333" textLength="34" lengthAdjust="spacingAndGlyphs">Height (km)</text>
<text x="186.10" y="106.60" font-size="9" fill="#222" stroke="#222" stroke-width="0.12" textLength="54" lengthAdjust="spacingAndGlyphs">202505040829</text>
<rect x="305.90" y="97.4" width="4.5" height="90.20" fill="url(#cb1)"/>
<g font-size="5.4" fill="#333"><text x="312.20" y="189.50">-4</text><text x="312.20" y="169.46">-2</text><text x="312.20" y="149.41">0</text><text x="312.20" y="129.37">2</text><text x="312.20" y="109.32">4</text></g>
<g stroke="#666" stroke-width="0.5"><line x1="310.40" y1="187.60" x2="311.40" y2="187.60"/><line x1="310.40" y1="167.56" x2="311.40" y2="167.56"/><line x1="310.40" y1="147.51" x2="311.40" y2="147.51"/><line x1="310.40" y1="127.47" x2="311.40" y2="127.47"/><line x1="310.40" y1="107.42" x2="311.40" y2="107.42"/></g>
<text transform="translate(319.30,145.50) rotate(90)" text-anchor="middle" font-size="7.4" fill="#333" textLength="13" lengthAdjust="spacingAndGlyphs">ZDR</text>
<polyline points="183.20,180.51 206.00,180.40 207.70,179.62 213.50,179.62 215.20,180.40 218.20,180.40 220.20,181.05 221.70,181.23 224.00,180.51 225.00,180.51 225.50,182.60 237.00,182.42 238.90,181.71 240.20,181.94 243.20,183.13 247.20,182.84 252.20,182.12 259.20,181.71 260.70,181.65 261.50,179.74 284.20,179.50 299.60,178.91" fill="none" stroke="#3c8c5c" stroke-width="0.75"/>
<polygon points="241.70,178.02 242.73,180.71 245.60,180.86 243.36,182.66 244.11,185.44 241.70,183.87 239.29,185.44 240.04,182.66 237.80,180.86 240.67,180.71" fill="#ff2a2a"/>
<text x="248.00" y="187.90" font-size="7" fill="#333" text-anchor="middle">A</text>
<text x="300.20" y="181.51" font-size="7.2" fill="#333">C</text>
<text x="300.20" y="161.72" font-size="7.2" fill="#333">B</text>
<g stroke="#ececec" stroke-width="0.9"><line x1="345.2" y1="175.69" x2="461.6" y2="175.69"/><line x1="345.2" y1="163.78" x2="461.6" y2="163.78"/><line x1="345.2" y1="151.88" x2="461.6" y2="151.88"/><line x1="345.2" y1="139.97" x2="461.6" y2="139.97"/><line x1="345.2" y1="128.06" x2="461.6" y2="128.06"/><line x1="345.2" y1="116.15" x2="461.6" y2="116.15"/><line x1="345.2" y1="104.25" x2="461.6" y2="104.25"/><line x1="368.55" y1="97.4" x2="368.55" y2="187.6"/><line x1="391.55" y1="97.4" x2="391.55" y2="187.6"/><line x1="414.56" y1="97.4" x2="414.56" y2="187.6"/><line x1="437.56" y1="97.4" x2="437.56" y2="187.6"/></g>
<g clip-path="url(#cp12)"><g clip-path="url(#env12)"><g filter="url(#bl)"><rect x="340.2" y="92.4" width="126.40000000000003" height="100.19999999999999" fill="#00d800"/><polygon points="341.50,127.50 415.50,106.25 415.50,125.00 395.00,130.00 380.50,133.75 370.00,138.75 358.00,142.50 341.50,148.75" fill="#28a8c8"/><polygon points="367.00,130.00 375.00,128.00 375.00,140.00 367.00,141.25" fill="#00d800"/><polygon points="393.00,112.50 405.50,109.50 405.50,121.25 394.25,123.75" fill="#40c8f0"/><polygon points="380.50,117.50 390.50,115.00 390.50,122.50 380.50,125.00" fill="#40c8f0"/><polygon points="341.50,147.50 368.00,142.50 393.00,136.25 405.50,132.50 415.50,130.00 415.50,145.00 393.00,152.50 368.00,160.00 341.50,162.50" fill="#008a00"/><polygon points="341.50,148.75 368.00,143.75 388.00,140.00 388.00,145.00 368.00,151.25 341.50,156.25" fill="#00d800"/><polygon points="402.50,110.00 403.50,109.75 403.50,132.50 402.50,132.50" fill="#a08000"/><polygon points="413.00,107.00 416.00,106.25 416.00,135.00 413.50,135.00" fill="#008a00"/><polygon points="418.00,135.00 425.50,133.75 425.50,145.00 418.00,145.00" fill="#008a00"/><polygon points="438.00,130.00 445.50,129.25 445.50,173.50 439.25,173.50" fill="#008a00"/><polygon points="396.00,160.00 402.50,150.00 410.00,144.50 418.00,141.50 425.50,140.00 431.75,143.75 433.00,151.25 428.00,155.00 421.75,156.25 421.00,173.50 419.25,178.50 394.25,178.50 394.25,166.25" fill="#ffffff"/><polygon points="398.00,160.50 404.00,151.25 411.00,146.00 418.00,143.25 425.50,142.00 430.50,145.00 431.00,150.50 426.75,153.00 421.00,154.50 419.50,173.50 418.00,178.50 396.00,178.50 396.00,166.25" fill="#ff2020"/><polygon points="405.50,162.50 411.75,161.25 415.50,173.50 410.50,177.25 404.25,176.00" fill="#ff9090"/><polygon points="423.00,156.25 435.50,155.00 436.75,174.75 422.50,175.50" fill="#00d800"/><polygon points="425.50,160.00 433.00,159.50 433.50,167.50 426.00,168.00" fill="#28a8c8"/><polygon points="438.00,162.50 441.00,162.50 441.00,168.00 438.00,168.00" fill="#40c8f0"/><rect x="340.2" y="92.4" width="126.40000000000003" height="100.19999999999999" fill="url(#stp)"/></g></g></g>
<line x1="345.2" y1="159.02" x2="461.6" y2="159.02" stroke="#3030ff" stroke-opacity="0.45" stroke-width="1.9"/>
<rect x="345.2" y="97.4" width="116.40" height="90.20" fill="none" stroke="#b0b0b0" stroke-width="0.85"/>
<g font-size="5.4" fill="#333" text-anchor="end"><text x="343.00" y="189.50">0</text><text x="343.00" y="177.59">2</text><text x="343.00" y="165.68">4</text><text x="343.00" y="153.78">6</text><text x="343.00" y="141.87">8</text><text x="343.00" y="129.96">10</text><text x="343.00" y="118.05">12</text><text x="343.00" y="106.15">14</text></g>
<g stroke="#888" stroke-width="0.5"><line x1="344.2" y1="187.60" x2="345.2" y2="187.60"/><line x1="344.2" y1="175.69" x2="345.2" y2="175.69"/><line x1="344.2" y1="163.78" x2="345.2" y2="163.78"/><line x1="344.2" y1="151.88" x2="345.2" y2="151.88"/><line x1="344.2" y1="139.97" x2="345.2" y2="139.97"/><line x1="344.2" y1="128.06" x2="345.2" y2="128.06"/><line x1="344.2" y1="116.15" x2="345.2" y2="116.15"/><line x1="344.2" y1="104.25" x2="345.2" y2="104.25"/></g>
<text transform="translate(334.50,142.50) rotate(-90)" text-anchor="middle" font-size="7.2" fill="#333" textLength="34" lengthAdjust="spacingAndGlyphs">Height (km)</text>
<text x="348.10" y="106.60" font-size="9" fill="#222" stroke="#222" stroke-width="0.12" textLength="54" lengthAdjust="spacingAndGlyphs">202505040829</text>
<rect x="468.50" y="97.4" width="4.5" height="90.20" fill="url(#cb2)"/>
<g font-size="5.4" fill="#333"><text x="474.80" y="182.34">-30</text><text x="474.80" y="168.02">-20</text><text x="474.80" y="153.71">-10</text><text x="474.80" y="139.39">0</text><text x="474.80" y="125.07">10</text><text x="474.80" y="110.75">20</text></g>
<g stroke="#666" stroke-width="0.5"><line x1="473.00" y1="180.44" x2="474.00" y2="180.44"/><line x1="473.00" y1="166.12" x2="474.00" y2="166.12"/><line x1="473.00" y1="151.81" x2="474.00" y2="151.81"/><line x1="473.00" y1="137.49" x2="474.00" y2="137.49"/><line x1="473.00" y1="123.17" x2="474.00" y2="123.17"/><line x1="473.00" y1="108.85" x2="474.00" y2="108.85"/></g>
<text transform="translate(487.40,145.50) rotate(90)" text-anchor="middle" font-size="7.4" fill="#333" textLength="33" lengthAdjust="spacingAndGlyphs">VEL ( m/s )</text>
<polyline points="345.20,180.51 368.00,180.40 369.70,179.62 375.50,179.62 377.20,180.40 380.20,180.40 382.20,181.05 383.70,181.23 386.00,180.51 387.00,180.51 387.50,182.60 399.00,182.42 400.90,181.71 402.20,181.94 405.20,183.13 409.20,182.84 414.20,182.12 421.20,181.71 422.70,181.65 423.50,179.74 446.20,179.50 461.60,178.91" fill="none" stroke="#3c8c5c" stroke-width="0.75"/>
<polygon points="403.70,178.02 404.73,180.71 407.60,180.86 405.36,182.66 406.11,185.44 403.70,183.87 401.29,185.44 402.04,182.66 399.80,180.86 402.67,180.71" fill="#ff2a2a"/>
<text x="410.00" y="187.90" font-size="7" fill="#333" text-anchor="middle">A</text>
<text x="462.80" y="181.51" font-size="7.2" fill="#333">C</text>
<text x="462.80" y="161.72" font-size="7.2" fill="#333">B</text>
<g stroke="#ececec" stroke-width="0.9"><line x1="20.0" y1="269.41" x2="136.4" y2="269.41"/><line x1="20.0" y1="257.43" x2="136.4" y2="257.43"/><line x1="20.0" y1="245.44" x2="136.4" y2="245.44"/><line x1="20.0" y1="233.45" x2="136.4" y2="233.45"/><line x1="20.0" y1="221.47" x2="136.4" y2="221.47"/><line x1="20.0" y1="209.48" x2="136.4" y2="209.48"/><line x1="20.0" y1="197.49" x2="136.4" y2="197.49"/><line x1="43.35" y1="190.6" x2="43.35" y2="281.4"/><line x1="66.35" y1="190.6" x2="66.35" y2="281.4"/><line x1="89.36" y1="190.6" x2="89.36" y2="281.4"/><line x1="112.36" y1="190.6" x2="112.36" y2="281.4"/></g>
<g clip-path="url(#cp20)"><g clip-path="url(#env20)"><g filter="url(#bl)"><rect x="15.0" y="185.6" width="126.4" height="100.79999999999998" fill="#10cc10"/><polygon points="30.00,220.25 84.50,201.50 84.50,229.00 93.00,229.50 102.00,239.00 102.00,272.00 30.00,272.00" fill="#ffee00"/><polygon points="28.00,219.00 33.00,218.50 33.00,256.50 28.00,256.50" fill="#b8e800"/><polygon points="16.50,220.25 28.00,218.50 28.00,256.00 16.50,256.00" fill="#10cc10"/><polygon points="33.00,218.50 38.00,217.00 38.00,226.50 33.00,226.50" fill="#10cc10"/><polygon points="45.50,214.00 49.25,213.50 49.25,224.00 45.50,224.00" fill="#10cc10"/><polygon points="55.50,212.00 60.50,211.00 60.50,221.50 55.50,221.50" fill="#10cc10"/><polygon points="70.50,207.00 84.50,201.50 84.50,214.00 71.75,214.00" fill="#10cc10"/><polygon points="80.50,202.00 84.50,201.00 84.50,206.50 81.50,207.00" fill="#00d0f8"/><polygon points="43.00,249.00 48.00,231.50 55.50,221.50 68.00,215.25 78.00,216.00 84.50,220.25 93.00,229.50 101.00,239.00 101.00,272.00 33.00,272.00 31.75,259.00 40.50,251.50" fill="#ff9800"/><polygon points="28.00,257.75 43.00,251.50 55.50,248.50 61.00,235.25 65.50,224.00 71.75,220.25 78.00,219.00 84.50,224.00 93.00,230.25 98.00,244.00 99.25,272.00 30.00,272.00" fill="#ff1000"/><polygon points="45.50,246.50 50.50,245.25 50.50,251.50 45.50,252.75" fill="#ff9800"/><polygon points="75.00,229.50 85.00,228.50 90.50,239.00 93.00,249.00 92.00,261.50 85.50,261.50 79.25,254.00 76.00,241.50" fill="#f000f0"/><polygon points="68.00,252.75 90.00,252.00 90.00,257.00 68.50,257.00" fill="#f000f0"/><polygon points="100.50,229.00 119.50,223.25 119.50,272.00 101.75,272.00" fill="#10cc10"/><polygon points="103.00,244.00 108.00,244.00 108.00,256.50 103.00,256.50" fill="#b8e800"/><polygon points="114.00,238.00 125.50,236.50 129.25,239.00 130.50,267.50 115.50,268.75" fill="#ffee00"/><polygon points="117.50,245.25 126.00,244.50 127.00,259.00 118.00,259.50" fill="#ff9800"/><polygon points="129.25,241.50 140.00,240.25 140.00,267.50 130.50,267.50" fill="#b8e800"/><polygon points="123.00,236.50 140.00,231.50 140.00,239.00 125.50,241.50" fill="#10cc10"/><polygon points="125.00,221.50 140.00,219.50 140.00,239.00 125.50,239.00" fill="#00d0f8"/><polygon points="111.75,224.00 118.00,223.00 118.00,226.50 111.75,227.00" fill="#00d0f8"/><polygon points="25.00,261.00 29.25,261.00 29.25,267.50 25.00,267.50" fill="#3090ff"/><polygon points="41.75,270.00 48.00,270.00 48.00,274.00 41.75,274.00" fill="#00d0f8"/><polygon points="45.00,270.50 47.50,270.50 47.50,274.00 45.00,274.00" fill="#3090ff"/><polygon points="108.00,269.50 113.00,269.50 113.00,272.50 108.00,272.50" fill="#00d0f8"/><rect x="15.0" y="185.6" width="126.4" height="100.79999999999998" fill="url(#stp)"/></g></g></g>
<line x1="20.0" y1="252.63" x2="136.4" y2="252.63" stroke="#3030ff" stroke-opacity="0.45" stroke-width="1.9"/>
<rect x="20.0" y="190.6" width="116.40" height="90.80" fill="none" stroke="#b0b0b0" stroke-width="0.85"/>
<g font-size="5.4" fill="#333" text-anchor="end"><text x="17.80" y="283.30">0</text><text x="17.80" y="271.31">2</text><text x="17.80" y="259.33">4</text><text x="17.80" y="247.34">6</text><text x="17.80" y="235.35">8</text><text x="17.80" y="223.37">10</text><text x="17.80" y="211.38">12</text><text x="17.80" y="199.39">14</text></g>
<g stroke="#888" stroke-width="0.5"><line x1="19.0" y1="281.40" x2="20.0" y2="281.40"/><line x1="19.0" y1="269.41" x2="20.0" y2="269.41"/><line x1="19.0" y1="257.43" x2="20.0" y2="257.43"/><line x1="19.0" y1="245.44" x2="20.0" y2="245.44"/><line x1="19.0" y1="233.45" x2="20.0" y2="233.45"/><line x1="19.0" y1="221.47" x2="20.0" y2="221.47"/><line x1="19.0" y1="209.48" x2="20.0" y2="209.48"/><line x1="19.0" y1="197.49" x2="20.0" y2="197.49"/></g>
<text transform="translate(9.30,236.00) rotate(-90)" text-anchor="middle" font-size="7.2" fill="#333" textLength="34" lengthAdjust="spacingAndGlyphs">Height (km)</text>
<text x="22.90" y="199.80" font-size="9" fill="#222" stroke="#222" stroke-width="0.12" textLength="54" lengthAdjust="spacingAndGlyphs">202505040834</text>
<rect x="143.30" y="190.6" width="4.5" height="90.80" fill="url(#cb0)"/>
<g font-size="5.4" fill="#333"><text x="149.60" y="283.30">0</text><text x="149.60" y="271.27">10</text><text x="149.60" y="259.25">20</text><text x="149.60" y="247.22">30</text><text x="149.60" y="235.19">40</text><text x="149.60" y="223.17">50</text><text x="149.60" y="211.14">60</text><text x="149.60" y="199.11">70</text></g>
<g stroke="#666" stroke-width="0.5"><line x1="147.80" y1="281.40" x2="148.80" y2="281.40"/><line x1="147.80" y1="269.37" x2="148.80" y2="269.37"/><line x1="147.80" y1="257.35" x2="148.80" y2="257.35"/><line x1="147.80" y1="245.32" x2="148.80" y2="245.32"/><line x1="147.80" y1="233.29" x2="148.80" y2="233.29"/><line x1="147.80" y1="221.27" x2="148.80" y2="221.27"/><line x1="147.80" y1="209.24" x2="148.80" y2="209.24"/><line x1="147.80" y1="197.21" x2="148.80" y2="197.21"/></g>
<text transform="translate(157.80,236.80) rotate(90)" text-anchor="middle" font-size="7.4" fill="#333" textLength="28" lengthAdjust="spacingAndGlyphs">REF (dBZ)</text>
<polyline points="20.00,274.27 42.80,274.15 44.50,273.37 50.30,273.37 52.00,274.15 55.00,274.15 57.00,274.81 58.50,274.99 60.80,274.27 61.80,274.27 62.30,276.37 73.80,276.19 75.70,275.47 77.00,275.71 80.00,276.90 84.00,276.61 89.00,275.89 96.00,275.47 97.50,275.41 98.30,273.49 121.00,273.25 136.40,272.65" fill="none" stroke="#3c8c5c" stroke-width="0.75"/>
<polygon points="78.50,271.79 79.53,274.47 82.40,274.62 80.16,276.43 80.91,279.20 78.50,277.64 76.09,279.20 76.84,276.43 74.60,274.62 77.47,274.47" fill="#ff2a2a"/>
<text x="84.80" y="281.70" font-size="7" fill="#333" text-anchor="middle">A</text>
<text x="137.60" y="275.25" font-size="7.2" fill="#333">C</text>
<text x="137.60" y="255.33" font-size="7.2" fill="#333">B</text>
<g stroke="#ececec" stroke-width="0.9"><line x1="183.2" y1="269.41" x2="299.0" y2="269.41"/><line x1="183.2" y1="257.43" x2="299.0" y2="257.43"/><line x1="183.2" y1="245.44" x2="299.0" y2="245.44"/><line x1="183.2" y1="233.45" x2="299.0" y2="233.45"/><line x1="183.2" y1="221.47" x2="299.0" y2="221.47"/><line x1="183.2" y1="209.48" x2="299.0" y2="209.48"/><line x1="183.2" y1="197.49" x2="299.0" y2="197.49"/><line x1="206.43" y1="190.6" x2="206.43" y2="281.4"/><line x1="229.32" y1="190.6" x2="229.32" y2="281.4"/><line x1="252.20" y1="190.6" x2="252.20" y2="281.4"/><line x1="275.09" y1="190.6" x2="275.09" y2="281.4"/></g>
<g clip-path="url(#cp21)"><g clip-path="url(#env21)"><g filter="url(#bl)"><rect x="178.2" y="185.6" width="125.80000000000001" height="100.79999999999998" fill="#16f016"/><polygon points="191.00,219.00 196.00,217.75 196.00,249.00 191.00,249.00" fill="#58f048"/><polygon points="211.00,212.75 216.00,211.50 216.00,249.00 211.00,249.00" fill="#58f048"/><polygon points="231.00,206.50 234.75,205.50 234.75,249.00 231.00,249.00" fill="#58f048"/><polygon points="239.00,204.50 247.75,201.50 247.75,226.50 240.00,226.50" fill="#ffe800"/><polygon points="242.00,203.50 247.75,201.50 247.75,220.25 243.00,220.25" fill="#ff9000"/><polygon points="244.50,203.00 247.75,202.00 247.75,216.50 245.00,216.50" fill="#ff1000"/><polygon points="245.00,202.50 248.00,201.50 248.00,214.00 245.50,214.00" fill="#f000f0"/><polygon points="186.00,253.00 206.00,253.50 226.00,253.00 238.50,252.00 248.50,251.50 249.75,273.25 205.00,273.25 205.00,268.25 197.00,268.25 197.00,260.25 188.00,260.25 188.00,255.75 186.00,255.75" fill="#ffe800"/><polygon points="195.00,257.00 218.50,256.50 236.00,255.50 246.50,254.50 248.50,273.25 205.00,273.25 205.00,268.25 196.00,267.50" fill="#ff9000"/><polygon points="208.50,261.50 231.00,260.25 243.50,259.50 246.50,273.25 208.50,273.25" fill="#ff1000"/><polygon points="220.00,267.50 238.50,262.00 246.50,256.50 248.50,273.25 220.00,273.25" fill="#f000f0"/><polygon points="256.00,229.00 266.00,227.00 266.00,256.50 256.00,256.50" fill="#ffe800"/><polygon points="258.50,229.00 263.50,228.00 263.50,251.50 259.00,251.50" fill="#ff9000"/><polygon points="262.00,228.00 270.00,226.50 270.00,258.00 262.50,258.00" fill="#f000f0"/><polygon points="269.50,227.00 274.00,226.50 274.00,251.50 269.50,251.50" fill="#ff1000"/><polygon points="273.50,226.50 280.00,225.50 280.00,249.00 273.50,249.00" fill="#ffe800"/><polygon points="248.00,250.00 258.00,250.00 258.00,262.00 248.00,262.00" fill="#d8d8d8"/><polygon points="273.00,252.00 283.00,252.00 283.00,271.50 273.00,271.50" fill="#d8d8d8"/><polygon points="290.00,249.00 301.00,249.00 301.00,256.00 290.00,256.00" fill="#d8d8d8"/><polygon points="294.75,229.00 301.50,229.00 301.50,240.25 294.75,240.25" fill="#d8d8d8"/><polygon points="283.50,254.00 291.00,253.50 291.00,267.50 283.50,267.50" fill="#ffe800"/><rect x="178.2" y="185.6" width="125.80000000000001" height="100.79999999999998" fill="url(#stp)"/></g></g></g>
<line x1="183.2" y1="252.63" x2="299.0" y2="252.63" stroke="#3030ff" stroke-opacity="0.45" stroke-width="1.9"/>
<rect x="183.2" y="190.6" width="115.80" height="90.80" fill="none" stroke="#b0b0b0" stroke-width="0.85"/>
<g font-size="5.4" fill="#333" text-anchor="end"><text x="181.00" y="283.30">0</text><text x="181.00" y="271.31">2</text><text x="181.00" y="259.33">4</text><text x="181.00" y="247.34">6</text><text x="181.00" y="235.35">8</text><text x="181.00" y="223.37">10</text><text x="181.00" y="211.38">12</text><text x="181.00" y="199.39">14</text></g>
<g stroke="#888" stroke-width="0.5"><line x1="182.2" y1="281.40" x2="183.2" y2="281.40"/><line x1="182.2" y1="269.41" x2="183.2" y2="269.41"/><line x1="182.2" y1="257.43" x2="183.2" y2="257.43"/><line x1="182.2" y1="245.44" x2="183.2" y2="245.44"/><line x1="182.2" y1="233.45" x2="183.2" y2="233.45"/><line x1="182.2" y1="221.47" x2="183.2" y2="221.47"/><line x1="182.2" y1="209.48" x2="183.2" y2="209.48"/><line x1="182.2" y1="197.49" x2="183.2" y2="197.49"/></g>
<text transform="translate(172.50,236.00) rotate(-90)" text-anchor="middle" font-size="7.2" fill="#333" textLength="34" lengthAdjust="spacingAndGlyphs">Height (km)</text>
<text x="186.10" y="199.80" font-size="9" fill="#222" stroke="#222" stroke-width="0.12" textLength="54" lengthAdjust="spacingAndGlyphs">202505040834</text>
<rect x="305.90" y="190.6" width="4.5" height="90.80" fill="url(#cb1)"/>
<g font-size="5.4" fill="#333"><text x="312.20" y="283.30">-4</text><text x="312.20" y="263.12">-2</text><text x="312.20" y="242.94">0</text><text x="312.20" y="222.77">2</text><text x="312.20" y="202.59">4</text></g>
<g stroke="#666" stroke-width="0.5"><line x1="310.40" y1="281.40" x2="311.40" y2="281.40"/><line x1="310.40" y1="261.22" x2="311.40" y2="261.22"/><line x1="310.40" y1="241.04" x2="311.40" y2="241.04"/><line x1="310.40" y1="220.87" x2="311.40" y2="220.87"/><line x1="310.40" y1="200.69" x2="311.40" y2="200.69"/></g>
<text transform="translate(319.30,239.00) rotate(90)" text-anchor="middle" font-size="7.4" fill="#333" textLength="13" lengthAdjust="spacingAndGlyphs">ZDR</text>
<polyline points="183.20,274.27 206.00,274.15 207.70,273.37 213.50,273.37 215.20,274.15 218.20,274.15 220.20,274.81 221.70,274.99 224.00,274.27 225.00,274.27 225.50,276.37 237.00,276.19 238.90,275.47 240.20,275.71 243.20,276.90 247.20,276.61 252.20,275.89 259.20,275.47 260.70,275.41 261.50,273.49 284.20,273.25 299.60,272.65" fill="none" stroke="#3c8c5c" stroke-width="0.75"/>
<polygon points="241.70,271.79 242.73,274.47 245.60,274.62 243.36,276.43 244.11,279.20 241.70,277.64 239.29,279.20 240.04,276.43 237.80,274.62 240.67,274.47" fill="#ff2a2a"/>
<text x="248.00" y="281.70" font-size="7" fill="#333" text-anchor="middle">A</text>
<text x="300.20" y="275.25" font-size="7.2" fill="#333">C</text>
<text x="300.20" y="255.33" font-size="7.2" fill="#333">B</text>
<g stroke="#ececec" stroke-width="0.9"><line x1="345.2" y1="269.41" x2="461.6" y2="269.41"/><line x1="345.2" y1="257.43" x2="461.6" y2="257.43"/><line x1="345.2" y1="245.44" x2="461.6" y2="245.44"/><line x1="345.2" y1="233.45" x2="461.6" y2="233.45"/><line x1="345.2" y1="221.47" x2="461.6" y2="221.47"/><line x1="345.2" y1="209.48" x2="461.6" y2="209.48"/><line x1="345.2" y1="197.49" x2="461.6" y2="197.49"/><line x1="368.55" y1="190.6" x2="368.55" y2="281.4"/><line x1="391.55" y1="190.6" x2="391.55" y2="281.4"/><line x1="414.56" y1="190.6" x2="414.56" y2="281.4"/><line x1="437.56" y1="190.6" x2="437.56" y2="281.4"/></g>
<g clip-path="url(#cp22)"><g clip-path="url(#env22)"><g filter="url(#bl)"><rect x="340.2" y="185.6" width="126.40000000000003" height="100.79999999999998" fill="#00d800"/><polygon points="350.00,240.25 378.00,239.00 405.50,229.00 410.50,229.00 410.50,254.00 388.00,267.50 355.00,268.50 350.00,261.50" fill="#00a400"/><polygon points="358.00,226.50 378.00,219.00 405.50,209.00 408.50,209.00 408.50,239.00 378.00,241.50 358.00,241.50" fill="#00b000"/><polygon points="365.50,229.00 370.50,226.50 370.50,261.50 365.50,261.50" fill="#009000"/><polygon points="398.00,214.00 403.00,212.75 403.00,246.50 398.00,249.00" fill="#009000"/><polygon points="341.50,242.75 350.00,241.50 350.00,259.00 341.50,256.50" fill="#00d800"/><polygon points="358.00,224.00 363.00,222.75 363.00,246.50 358.00,246.50" fill="#00d800"/><polygon points="373.00,219.00 376.75,218.50 376.75,244.00 373.00,244.00" fill="#00d800"/><polygon points="345.50,231.50 355.50,230.25 355.50,244.00 345.50,245.25" fill="#50c0a0"/><polygon points="379.00,211.50 385.00,209.50 385.00,225.00 379.00,225.00" fill="#40c8f0"/><polygon points="395.00,206.50 399.00,205.50 399.00,221.50 395.00,221.50" fill="#40c8f0"/><polygon points="385.00,209.50 395.00,206.50 395.00,216.50 385.00,217.00" fill="#ffe800"/><polygon points="385.00,216.50 395.00,216.00 395.00,221.00 385.00,221.50" fill="#ff8000"/><polygon points="385.00,221.00 395.00,220.50 395.00,227.00 385.00,227.50" fill="#ff2020"/><polygon points="385.00,227.00 395.00,226.50 395.00,229.50 385.00,230.00" fill="#ffffff"/><polygon points="385.00,230.00 395.00,229.50 395.00,231.50 385.00,232.00" fill="#008a00"/><polygon points="408.00,202.75 411.50,202.00 411.50,234.00 408.00,234.00" fill="#ffffff"/><polygon points="409.00,202.75 410.75,202.50 410.75,233.00 409.00,233.00" fill="#ff2020"/><polygon points="378.00,273.50 380.00,267.50 388.00,256.50 395.50,250.25 403.00,244.00 409.25,239.00 410.50,230.25 418.00,229.00 419.00,246.50 418.00,251.50 414.25,254.50 411.75,267.50 415.50,273.50" fill="#ffffff"/><polygon points="380.00,273.50 381.75,268.00 389.25,258.00 396.50,252.00 404.00,245.50 410.50,240.25 412.00,231.50 417.00,231.00 417.50,246.50 416.50,251.50 413.00,253.50 410.50,267.50 414.25,273.50" fill="#ff2020"/><polygon points="391.75,256.50 401.75,252.75 405.50,261.50 395.50,268.75" fill="#ff9090"/><polygon points="412.50,255.00 418.00,254.00 418.50,268.75 413.50,268.75" fill="#00d800"/><polygon points="423.00,231.50 428.00,230.25 428.00,267.50 423.00,268.75" fill="#00a400"/><polygon points="438.00,226.50 441.75,226.50 441.75,267.50 438.00,268.75" fill="#00a400"/><rect x="340.2" y="185.6" width="126.40000000000003" height="100.79999999999998" fill="url(#stp)"/></g></g><polygon points="457.00,259.00 458.00,259.00 458.00,268.00 457.00,268.00" fill="#ffffff"/><polygon points="459.25,259.00 460.25,259.00 460.25,268.00 459.25,268.00" fill="#ffffff"/></g>
<line x1="345.2" y1="252.63" x2="461.6" y2="252.63" stroke="#3030ff" stroke-opacity="0.45" stroke-width="1.9"/>
<rect x="345.2" y="190.6" width="116.40" height="90.80" fill="none" stroke="#b0b0b0" stroke-width="0.85"/>
<g font-size="5.4" fill="#333" text-anchor="end"><text x="343.00" y="283.30">0</text><text x="343.00" y="271.31">2</text><text x="343.00" y="259.33">4</text><text x="343.00" y="247.34">6</text><text x="343.00" y="235.35">8</text><text x="343.00" y="223.37">10</text><text x="343.00" y="211.38">12</text><text x="343.00" y="199.39">14</text></g>
<g stroke="#888" stroke-width="0.5"><line x1="344.2" y1="281.40" x2="345.2" y2="281.40"/><line x1="344.2" y1="269.41" x2="345.2" y2="269.41"/><line x1="344.2" y1="257.43" x2="345.2" y2="257.43"/><line x1="344.2" y1="245.44" x2="345.2" y2="245.44"/><line x1="344.2" y1="233.45" x2="345.2" y2="233.45"/><line x1="344.2" y1="221.47" x2="345.2" y2="221.47"/><line x1="344.2" y1="209.48" x2="345.2" y2="209.48"/><line x1="344.2" y1="197.49" x2="345.2" y2="197.49"/></g>
<text transform="translate(334.50,236.00) rotate(-90)" text-anchor="middle" font-size="7.2" fill="#333" textLength="34" lengthAdjust="spacingAndGlyphs">Height (km)</text>
<text x="348.10" y="199.80" font-size="9" fill="#222" stroke="#222" stroke-width="0.12" textLength="54" lengthAdjust="spacingAndGlyphs">202505040834</text>
<rect x="468.50" y="190.6" width="4.5" height="90.80" fill="url(#cb2)"/>
<g font-size="5.4" fill="#333"><text x="474.80" y="276.09">-30</text><text x="474.80" y="261.68">-20</text><text x="474.80" y="247.27">-10</text><text x="474.80" y="232.86">0</text><text x="474.80" y="218.44">10</text><text x="474.80" y="204.03">20</text></g>
<g stroke="#666" stroke-width="0.5"><line x1="473.00" y1="274.19" x2="474.00" y2="274.19"/><line x1="473.00" y1="259.78" x2="474.00" y2="259.78"/><line x1="473.00" y1="245.37" x2="474.00" y2="245.37"/><line x1="473.00" y1="230.96" x2="474.00" y2="230.96"/><line x1="473.00" y1="216.54" x2="474.00" y2="216.54"/><line x1="473.00" y1="202.13" x2="474.00" y2="202.13"/></g>
<text transform="translate(487.40,239.00) rotate(90)" text-anchor="middle" font-size="7.4" fill="#333" textLength="33" lengthAdjust="spacingAndGlyphs">VEL ( m/s )</text>
<polyline points="345.20,274.27 368.00,274.15 369.70,273.37 375.50,273.37 377.20,274.15 380.20,274.15 382.20,274.81 383.70,274.99 386.00,274.27 387.00,274.27 387.50,276.37 399.00,276.19 400.90,275.47 402.20,275.71 405.20,276.90 409.20,276.61 414.20,275.89 421.20,275.47 422.70,275.41 423.50,273.49 446.20,273.25 461.60,272.65" fill="none" stroke="#3c8c5c" stroke-width="0.75"/>
<polygon points="403.70,271.79 404.73,274.47 407.60,274.62 405.36,276.43 406.11,279.20 403.70,277.64 401.29,279.20 402.04,276.43 399.80,274.62 402.67,274.47" fill="#ff2a2a"/>
<text x="410.00" y="281.70" font-size="7" fill="#333" text-anchor="middle">A</text>
<text x="462.80" y="275.25" font-size="7.2" fill="#333">C</text>
<text x="462.80" y="255.33" font-size="7.2" fill="#333">B</text>
<g stroke="#ececec" stroke-width="0.9"><line x1="20.0" y1="364.44" x2="136.4" y2="364.44"/><line x1="20.0" y1="352.48" x2="136.4" y2="352.48"/><line x1="20.0" y1="340.52" x2="136.4" y2="340.52"/><line x1="20.0" y1="328.56" x2="136.4" y2="328.56"/><line x1="20.0" y1="316.60" x2="136.4" y2="316.60"/><line x1="20.0" y1="304.64" x2="136.4" y2="304.64"/><line x1="20.0" y1="292.68" x2="136.4" y2="292.68"/><line x1="43.35" y1="285.8" x2="43.35" y2="376.4"/><line x1="66.35" y1="285.8" x2="66.35" y2="376.4"/><line x1="89.36" y1="285.8" x2="89.36" y2="376.4"/><line x1="112.36" y1="285.8" x2="112.36" y2="376.4"/></g>
<g clip-path="url(#cp30)"><g clip-path="url(#env30)"><g filter="url(#bl)"><rect x="15.0" y="280.8" width="126.4" height="100.59999999999997" fill="#ffee00"/><polygon points="16.50,316.00 28.00,314.00 28.00,327.75 16.50,330.25" fill="#10cc10"/><polygon points="30.00,312.75 42.00,310.25 42.00,327.75 39.50,331.50 33.00,331.50 30.00,326.50" fill="#10cc10"/><polygon points="31.75,315.25 39.25,313.50 39.25,324.00 31.75,325.25" fill="#00a800"/><polygon points="45.00,309.00 50.00,308.00 50.00,319.00 45.50,319.00" fill="#10cc10"/><polygon points="68.00,301.50 79.00,298.50 79.00,311.50 69.25,315.25" fill="#10cc10"/><polygon points="16.50,329.00 25.50,329.00 25.50,354.00 16.50,354.00" fill="#b8e800"/><polygon points="43.00,324.00 49.25,314.00 58.00,309.00 68.00,311.50 79.00,319.00 90.50,326.50 92.00,367.00 28.00,368.50 28.00,341.50 40.50,339.00" fill="#ff9800"/><polygon points="41.75,324.00 46.00,317.75 47.50,336.50 43.00,337.75" fill="#ffee00"/><polygon points="55.50,321.50 59.25,312.00 65.50,308.50 71.75,309.50 76.75,316.50 79.00,326.00 83.50,326.50 85.00,367.00 28.00,367.00 25.00,354.00 33.00,345.00 50.50,344.00" fill="#ff1000"/><polygon points="81.75,326.00 89.00,326.50 90.50,367.00 83.50,367.00" fill="#ff9800"/><polygon points="66.00,325.25 73.00,324.50 75.50,339.00 76.00,358.00 69.25,362.50 66.75,344.00" fill="#f000f0"/><polygon points="58.00,351.50 62.50,351.00 62.50,356.50 58.00,356.50" fill="#f000f0"/><polygon points="88.00,327.00 92.50,326.50 93.50,367.00 89.25,367.00" fill="#ffee00"/><polygon points="92.00,324.00 122.75,317.50 122.75,367.00 93.00,367.00" fill="#10cc10"/><polygon points="93.00,340.00 98.00,339.50 98.50,351.00 93.50,351.00" fill="#ffee00"/><polygon points="102.00,338.00 108.50,337.50 108.50,362.50 102.50,362.50" fill="#ffee00"/><polygon points="110.50,340.50 115.50,340.00 115.50,349.50 111.00,349.50" fill="#ffee00"/><polygon points="103.00,321.50 122.75,317.50 123.50,341.50 118.00,339.00 105.50,334.00" fill="#00d0f8"/><polygon points="112.00,320.25 122.50,318.00 122.50,334.00 113.00,331.50" fill="#3090ff"/><polygon points="122.75,338.50 129.50,338.50 129.50,356.50 122.75,362.50" fill="#10cc10"/><polygon points="124.00,344.00 128.00,344.00 128.00,349.50 124.00,349.50" fill="#ffee00"/><polygon points="118.00,356.50 123.00,356.50 123.00,367.00 118.00,367.00" fill="#00d0f8"/><polygon points="23.00,362.00 30.00,362.00 30.00,365.00 23.00,365.00" fill="#10cc10"/><polygon points="30.00,364.00 55.50,363.50 55.50,369.00 30.00,369.00" fill="#10cc10"/><rect x="15.0" y="280.8" width="126.4" height="100.59999999999997" fill="url(#stp)"/></g></g><polygon points="131.00,315.50 132.00,315.50 132.00,330.00 131.00,330.00" fill="#3090ff"/></g>
<line x1="20.0" y1="347.70" x2="136.4" y2="347.70" stroke="#3030ff" stroke-opacity="0.45" stroke-width="1.9"/>
<rect x="20.0" y="285.8" width="116.40" height="90.60" fill="none" stroke="#b0b0b0" stroke-width="0.85"/>
<g font-size="5.4" fill="#333" text-anchor="end"><text x="17.80" y="378.30">0</text><text x="17.80" y="366.34">2</text><text x="17.80" y="354.38">4</text><text x="17.80" y="342.42">6</text><text x="17.80" y="330.46">8</text><text x="17.80" y="318.50">10</text><text x="17.80" y="306.54">12</text><text x="17.80" y="294.58">14</text></g>
<g stroke="#888" stroke-width="0.5"><line x1="19.0" y1="376.40" x2="20.0" y2="376.40"/><line x1="19.0" y1="364.44" x2="20.0" y2="364.44"/><line x1="19.0" y1="352.48" x2="20.0" y2="352.48"/><line x1="19.0" y1="340.52" x2="20.0" y2="340.52"/><line x1="19.0" y1="328.56" x2="20.0" y2="328.56"/><line x1="19.0" y1="316.60" x2="20.0" y2="316.60"/><line x1="19.0" y1="304.64" x2="20.0" y2="304.64"/><line x1="19.0" y1="292.68" x2="20.0" y2="292.68"/></g>
<text transform="translate(9.30,331.10) rotate(-90)" text-anchor="middle" font-size="7.2" fill="#333" textLength="34" lengthAdjust="spacingAndGlyphs">Height (km)</text>
<text x="22.90" y="295.00" font-size="9" fill="#222" stroke="#222" stroke-width="0.12" textLength="54" lengthAdjust="spacingAndGlyphs">202505040839</text>
<rect x="143.30" y="285.8" width="4.5" height="90.60" fill="url(#cb0)"/>
<g font-size="5.4" fill="#333"><text x="149.60" y="378.30">0</text><text x="149.60" y="366.30">10</text><text x="149.60" y="354.30">20</text><text x="149.60" y="342.30">30</text><text x="149.60" y="330.30">40</text><text x="149.60" y="318.30">50</text><text x="149.60" y="306.30">60</text><text x="149.60" y="294.30">70</text></g>
<g stroke="#666" stroke-width="0.5"><line x1="147.80" y1="376.40" x2="148.80" y2="376.40"/><line x1="147.80" y1="364.40" x2="148.80" y2="364.40"/><line x1="147.80" y1="352.40" x2="148.80" y2="352.40"/><line x1="147.80" y1="340.40" x2="148.80" y2="340.40"/><line x1="147.80" y1="328.40" x2="148.80" y2="328.40"/><line x1="147.80" y1="316.40" x2="148.80" y2="316.40"/><line x1="147.80" y1="304.40" x2="148.80" y2="304.40"/><line x1="147.80" y1="292.40" x2="148.80" y2="292.40"/></g>
<text transform="translate(157.80,331.90) rotate(90)" text-anchor="middle" font-size="7.4" fill="#333" textLength="28" lengthAdjust="spacingAndGlyphs">REF (dBZ)</text>
<polyline points="20.00,369.28 42.80,369.16 44.50,368.39 50.30,368.39 52.00,369.16 55.00,369.16 57.00,369.82 58.50,370.00 60.80,369.28 61.80,369.28 62.30,371.38 73.80,371.20 75.70,370.48 77.00,370.72 80.00,371.91 84.00,371.62 89.00,370.90 96.00,370.48 97.50,370.42 98.30,368.51 121.00,368.27 136.40,367.67" fill="none" stroke="#3c8c5c" stroke-width="0.75"/>
<polygon points="78.50,366.80 79.53,369.48 82.40,369.63 80.16,371.44 80.91,374.22 78.50,372.65 76.09,374.22 76.84,371.44 74.60,369.63 77.47,369.48" fill="#ff2a2a"/>
<text x="84.80" y="376.70" font-size="7" fill="#333" text-anchor="middle">A</text>
<text x="137.60" y="370.27" font-size="7.2" fill="#333">C</text>
<text x="137.60" y="350.40" font-size="7.2" fill="#333">B</text>
<g stroke="#ececec" stroke-width="0.9"><line x1="183.2" y1="364.44" x2="299.0" y2="364.44"/><line x1="183.2" y1="352.48" x2="299.0" y2="352.48"/><line x1="183.2" y1="340.52" x2="299.0" y2="340.52"/><line x1="183.2" y1="328.56" x2="299.0" y2="328.56"/><line x1="183.2" y1="316.60" x2="299.0" y2="316.60"/><line x1="183.2" y1="304.64" x2="299.0" y2="304.64"/><line x1="183.2" y1="292.68" x2="299.0" y2="292.68"/><line x1="206.43" y1="285.8" x2="206.43" y2="376.4"/><line x1="229.32" y1="285.8" x2="229.32" y2="376.4"/><line x1="252.20" y1="285.8" x2="252.20" y2="376.4"/><line x1="275.09" y1="285.8" x2="275.09" y2="376.4"/></g>
<g clip-path="url(#cp31)"><g clip-path="url(#env31)"><g filter="url(#bl)"><rect x="178.2" y="280.8" width="125.80000000000001" height="100.59999999999997" fill="#16f016"/><polygon points="196.00,312.75 201.00,311.50 201.00,344.00 196.00,344.00" fill="#58f048"/><polygon points="218.50,306.50 223.50,305.25 223.50,344.00 218.50,344.00" fill="#58f048"/><polygon points="179.50,349.50 206.00,348.50 223.50,349.50 233.50,346.50 234.75,368.50 179.50,368.50" fill="#ffe800"/><polygon points="179.50,353.50 206.00,352.00 226.00,352.75 231.00,354.00 232.25,368.50 179.50,368.50" fill="#ff9000"/><polygon points="198.50,357.00 218.50,355.50 229.75,356.50 231.00,368.50 198.50,368.50" fill="#ff1000"/><polygon points="210.00,362.50 225.00,358.00 226.00,368.50 210.00,368.50" fill="#f000f0"/><polygon points="233.50,349.50 286.00,349.50 286.00,367.50 233.50,368.50" fill="#d8d8d8"/><polygon points="238.50,349.50 243.50,349.50 243.50,368.50 238.50,368.50" fill="#16f016"/><polygon points="251.00,351.50 256.00,351.50 256.00,368.50 251.00,368.50" fill="#16f016"/><polygon points="263.50,349.50 267.25,349.50 267.25,368.50 263.50,368.50" fill="#16f016"/><polygon points="251.00,324.00 266.00,321.50 266.00,344.00 252.25,344.00" fill="#ffe800"/><polygon points="253.50,324.00 262.25,322.75 262.25,340.25 254.00,340.25" fill="#ff9000"/><polygon points="255.00,324.00 260.00,323.50 260.00,340.00 255.50,340.00" fill="#ff1000"/><polygon points="255.50,324.00 259.00,323.50 259.00,330.25 256.00,330.25" fill="#f000f0"/><polygon points="263.50,324.00 268.00,323.50 268.00,341.50 263.50,341.50" fill="#16f016"/><polygon points="268.50,321.50 271.50,321.00 271.50,331.50 268.50,331.50" fill="#ffe800"/><polygon points="259.75,341.00 274.75,340.50 275.50,349.50 260.50,349.50" fill="#ffe800"/><polygon points="246.00,343.00 249.75,343.00 249.75,351.00 246.00,351.00" fill="#ffe800"/><polygon points="281.00,319.00 284.00,318.50 284.00,334.00 281.00,334.00" fill="#ffe800"/><polygon points="286.00,344.00 292.00,343.00 292.00,349.50 286.00,349.50" fill="#ffe800"/><rect x="178.2" y="280.8" width="125.80000000000001" height="100.59999999999997" fill="url(#stp)"/></g></g><polygon points="193.00,359.75 196.00,359.75 196.00,365.00 193.00,365.00" fill="#ffffff"/><polygon points="195.00,360.25 199.00,360.25 199.00,365.00 195.00,365.00" fill="#ffffff"/></g>
<line x1="183.2" y1="347.70" x2="299.0" y2="347.70" stroke="#3030ff" stroke-opacity="0.45" stroke-width="1.9"/>
<rect x="183.2" y="285.8" width="115.80" height="90.60" fill="none" stroke="#b0b0b0" stroke-width="0.85"/>
<g font-size="5.4" fill="#333" text-anchor="end"><text x="181.00" y="378.30">0</text><text x="181.00" y="366.34">2</text><text x="181.00" y="354.38">4</text><text x="181.00" y="342.42">6</text><text x="181.00" y="330.46">8</text><text x="181.00" y="318.50">10</text><text x="181.00" y="306.54">12</text><text x="181.00" y="294.58">14</text></g>
<g stroke="#888" stroke-width="0.5"><line x1="182.2" y1="376.40" x2="183.2" y2="376.40"/><line x1="182.2" y1="364.44" x2="183.2" y2="364.44"/><line x1="182.2" y1="352.48" x2="183.2" y2="352.48"/><line x1="182.2" y1="340.52" x2="183.2" y2="340.52"/><line x1="182.2" y1="328.56" x2="183.2" y2="328.56"/><line x1="182.2" y1="316.60" x2="183.2" y2="316.60"/><line x1="182.2" y1="304.64" x2="183.2" y2="304.64"/><line x1="182.2" y1="292.68" x2="183.2" y2="292.68"/></g>
<text transform="translate(172.50,331.10) rotate(-90)" text-anchor="middle" font-size="7.2" fill="#333" textLength="34" lengthAdjust="spacingAndGlyphs">Height (km)</text>
<text x="186.10" y="295.00" font-size="9" fill="#222" stroke="#222" stroke-width="0.12" textLength="54" lengthAdjust="spacingAndGlyphs">202505040839</text>
<rect x="305.90" y="285.8" width="4.5" height="90.60" fill="url(#cb1)"/>
<g font-size="5.4" fill="#333"><text x="312.20" y="378.30">-4</text><text x="312.20" y="358.17">-2</text><text x="312.20" y="338.03">0</text><text x="312.20" y="317.90">2</text><text x="312.20" y="297.77">4</text></g>
<g stroke="#666" stroke-width="0.5"><line x1="310.40" y1="376.40" x2="311.40" y2="376.40"/><line x1="310.40" y1="356.27" x2="311.40" y2="356.27"/><line x1="310.40" y1="336.13" x2="311.40" y2="336.13"/><line x1="310.40" y1="316.00" x2="311.40" y2="316.00"/><line x1="310.40" y1="295.87" x2="311.40" y2="295.87"/></g>
<text transform="translate(319.30,334.10) rotate(90)" text-anchor="middle" font-size="7.4" fill="#333" textLength="13" lengthAdjust="spacingAndGlyphs">ZDR</text>
<polyline points="183.20,369.28 206.00,369.16 207.70,368.39 213.50,368.39 215.20,369.16 218.20,369.16 220.20,369.82 221.70,370.00 224.00,369.28 225.00,369.28 225.50,371.38 237.00,371.20 238.90,370.48 240.20,370.72 243.20,371.91 247.20,371.62 252.20,370.90 259.20,370.48 260.70,370.42 261.50,368.51 284.20,368.27 299.60,367.67" fill="none" stroke="#3c8c5c" stroke-width="0.75"/>
<polygon points="241.70,366.80 242.73,369.48 245.60,369.63 243.36,371.44 244.11,374.22 241.70,372.65 239.29,374.22 240.04,371.44 237.80,369.63 240.67,369.48" fill="#ff2a2a"/>
<text x="248.00" y="376.70" font-size="7" fill="#333" text-anchor="middle">A</text>
<text x="300.20" y="370.27" font-size="7.2" fill="#333">C</text>
<text x="300.20" y="350.40" font-size="7.2" fill="#333">B</text>
<g stroke="#ececec" stroke-width="0.9"><line x1="345.2" y1="364.44" x2="461.6" y2="364.44"/><line x1="345.2" y1="352.48" x2="461.6" y2="352.48"/><line x1="345.2" y1="340.52" x2="461.6" y2="340.52"/><line x1="345.2" y1="328.56" x2="461.6" y2="328.56"/><line x1="345.2" y1="316.60" x2="461.6" y2="316.60"/><line x1="345.2" y1="304.64" x2="461.6" y2="304.64"/><line x1="345.2" y1="292.68" x2="461.6" y2="292.68"/><line x1="368.55" y1="285.8" x2="368.55" y2="376.4"/><line x1="391.55" y1="285.8" x2="391.55" y2="376.4"/><line x1="414.56" y1="285.8" x2="414.56" y2="376.4"/><line x1="437.56" y1="285.8" x2="437.56" y2="376.4"/></g>
<g clip-path="url(#cp32)"><g clip-path="url(#env32)"><g filter="url(#bl)"><rect x="340.2" y="280.8" width="126.40000000000003" height="100.59999999999997" fill="#00d800"/><polygon points="365.00,308.50 394.25,301.50 394.25,311.00 380.50,315.25 366.00,316.50" fill="#38a8d0"/><polygon points="380.50,306.00 393.00,302.50 393.00,307.75 383.00,309.50" fill="#40c8f0"/><polygon points="341.50,344.00 368.00,345.25 370.50,362.50 341.50,363.50" fill="#00a400"/><polygon points="358.00,321.50 363.00,321.50 363.00,346.50 358.00,346.50" fill="#00a400"/><polygon points="378.00,321.50 383.00,321.50 383.00,344.00 378.00,344.00" fill="#00a400"/><polygon points="396.75,309.00 405.00,301.50 405.00,344.00 396.75,344.00" fill="#009a00"/><polygon points="407.00,326.50 410.50,325.25 410.50,366.75 407.00,366.75" fill="#00a400"/><polygon points="369.25,368.50 371.75,356.50 376.75,347.75 383.00,344.00 393.00,343.00 399.25,346.50 404.25,354.00 410.00,365.00 410.00,368.50" fill="#ffffff"/><polygon points="372.00,368.50 374.00,357.00 378.50,349.50 384.25,345.50 392.50,344.75 397.50,348.00 402.50,355.00 408.50,367.00 409.25,368.50" fill="#ff2020"/><polygon points="385.50,354.00 398.00,352.75 400.00,365.00 386.75,365.50" fill="#ff9090"/><polygon points="406.00,329.50 410.50,329.00 410.50,340.50 406.00,340.50" fill="#ffffff"/><polygon points="407.00,331.00 409.75,330.50 409.75,339.00 407.00,339.00" fill="#ff2020"/><polygon points="418.00,336.50 423.00,336.50 423.00,344.00 418.00,344.00" fill="#28a8c8"/><polygon points="428.00,344.00 433.00,344.00 433.00,351.50 428.00,351.50" fill="#28a8c8"/><polygon points="360.50,363.50 366.75,363.50 366.75,368.50 360.50,368.50" fill="#ffffff"/><rect x="340.2" y="280.8" width="126.40000000000003" height="100.59999999999997" fill="url(#stp)"/></g></g><polygon points="457.50,315.75 458.50,315.75 458.50,330.00 457.50,330.00" fill="#00d800"/><polygon points="449.25,345.25 450.25,345.25 450.25,354.50 449.25,354.50" fill="#00d800"/><polygon points="454.25,345.25 455.25,345.25 455.25,354.50 454.25,354.50" fill="#00d800"/></g>
<line x1="345.2" y1="347.70" x2="461.6" y2="347.70" stroke="#3030ff" stroke-opacity="0.45" stroke-width="1.9"/>
<rect x="345.2" y="285.8" width="116.40" height="90.60" fill="none" stroke="#b0b0b0" stroke-width="0.85"/>
<g font-size="5.4" fill="#333" text-anchor="end"><text x="343.00" y="378.30">0</text><text x="343.00" y="366.34">2</text><text x="343.00" y="354.38">4</text><text x="343.00" y="342.42">6</text><text x="343.00" y="330.46">8</text><text x="343.00" y="318.50">10</text><text x="343.00" y="306.54">12</text><text x="343.00" y="294.58">14</text></g>
<g stroke="#888" stroke-width="0.5"><line x1="344.2" y1="376.40" x2="345.2" y2="376.40"/><line x1="344.2" y1="364.44" x2="345.2" y2="364.44"/><line x1="344.2" y1="352.48" x2="345.2" y2="352.48"/><line x1="344.2" y1="340.52" x2="345.2" y2="340.52"/><line x1="344.2" y1="328.56" x2="345.2" y2="328.56"/><line x1="344.2" y1="316.60" x2="345.2" y2="316.60"/><line x1="344.2" y1="304.64" x2="345.2" y2="304.64"/><line x1="344.2" y1="292.68" x2="345.2" y2="292.68"/></g>
<text transform="translate(334.50,331.10) rotate(-90)" text-anchor="middle" font-size="7.2" fill="#333" textLength="34" lengthAdjust="spacingAndGlyphs">Height (km)</text>
<text x="348.10" y="295.00" font-size="9" fill="#222" stroke="#222" stroke-width="0.12" textLength="54" lengthAdjust="spacingAndGlyphs">202505040839</text>
<rect x="468.50" y="285.8" width="4.5" height="90.60" fill="url(#cb2)"/>
<g font-size="5.4" fill="#333"><text x="474.80" y="371.11">-30</text><text x="474.80" y="356.73">-20</text><text x="474.80" y="342.35">-10</text><text x="474.80" y="327.97">0</text><text x="474.80" y="313.59">10</text><text x="474.80" y="299.20">20</text></g>
<g stroke="#666" stroke-width="0.5"><line x1="473.00" y1="369.21" x2="474.00" y2="369.21"/><line x1="473.00" y1="354.83" x2="474.00" y2="354.83"/><line x1="473.00" y1="340.45" x2="474.00" y2="340.45"/><line x1="473.00" y1="326.07" x2="474.00" y2="326.07"/><line x1="473.00" y1="311.69" x2="474.00" y2="311.69"/><line x1="473.00" y1="297.30" x2="474.00" y2="297.30"/></g>
<text transform="translate(487.40,334.10) rotate(90)" text-anchor="middle" font-size="7.4" fill="#333" textLength="33" lengthAdjust="spacingAndGlyphs">VEL ( m/s )</text>
<polyline points="345.20,369.28 368.00,369.16 369.70,368.39 375.50,368.39 377.20,369.16 380.20,369.16 382.20,369.82 383.70,370.00 386.00,369.28 387.00,369.28 387.50,371.38 399.00,371.20 400.90,370.48 402.20,370.72 405.20,371.91 409.20,371.62 414.20,370.90 421.20,370.48 422.70,370.42 423.50,368.51 446.20,368.27 461.60,367.67" fill="none" stroke="#3c8c5c" stroke-width="0.75"/>
<polygon points="403.70,366.80 404.73,369.48 407.60,369.63 405.36,371.44 406.11,374.22 403.70,372.65 401.29,374.22 402.04,371.44 399.80,369.63 402.67,369.48" fill="#ff2a2a"/>
<text x="410.00" y="376.70" font-size="7" fill="#333" text-anchor="middle">A</text>
<text x="462.80" y="370.27" font-size="7.2" fill="#333">C</text>
<text x="462.80" y="350.40" font-size="7.2" fill="#333">B</text>
<g stroke="#ececec" stroke-width="0.9"><line x1="20.0" y1="459.53" x2="136.4" y2="459.53"/><line x1="20.0" y1="447.47" x2="136.4" y2="447.47"/><line x1="20.0" y1="435.40" x2="136.4" y2="435.40"/><line x1="20.0" y1="423.34" x2="136.4" y2="423.34"/><line x1="20.0" y1="411.27" x2="136.4" y2="411.27"/><line x1="20.0" y1="399.20" x2="136.4" y2="399.20"/><line x1="20.0" y1="387.14" x2="136.4" y2="387.14"/><line x1="43.35" y1="380.2" x2="43.35" y2="471.6"/><line x1="66.35" y1="380.2" x2="66.35" y2="471.6"/><line x1="89.36" y1="380.2" x2="89.36" y2="471.6"/><line x1="112.36" y1="380.2" x2="112.36" y2="471.6"/></g>
<g clip-path="url(#cp40)"><g clip-path="url(#env40)"><g filter="url(#bl)"><rect x="15.0" y="375.2" width="126.4" height="101.40000000000003" fill="#ffee00"/><polygon points="16.50,410.50 28.00,408.00 28.00,435.00 16.50,435.00" fill="#10cc10"/><polygon points="25.50,409.25 30.00,408.00 30.00,438.00 25.50,438.00" fill="#b8e800"/><polygon points="40.00,405.50 45.50,403.00 48.00,438.00 40.50,438.00" fill="#ff9800"/><polygon points="45.00,408.00 52.00,403.00 63.00,400.50 66.50,403.00 66.50,422.00 75.50,428.00 78.00,464.00 16.50,464.00 16.50,440.50 43.00,439.25" fill="#ff1000"/><polygon points="52.00,398.50 65.50,396.50 65.50,405.50 53.00,408.00" fill="#10cc10"/><polygon points="55.50,401.75 58.00,401.00 58.00,407.50 55.50,408.00" fill="#ffee00"/><polygon points="64.50,396.50 67.00,396.00 67.00,400.50 64.50,401.00" fill="#00d0f8"/><polygon points="16.50,437.50 43.00,437.00 65.50,435.50 65.50,440.50 16.50,441.00" fill="#ff9800"/><polygon points="65.50,422.00 76.75,421.00 78.00,461.50 66.75,461.50" fill="#ff1000"/><polygon points="59.25,424.25 66.75,422.50 70.50,428.00 71.00,440.50 69.25,450.50 65.50,457.75 59.25,456.50 58.00,440.50" fill="#f000f0"/><polygon points="75.00,421.00 80.50,420.50 82.00,461.50 76.50,461.50" fill="#ff9800"/><polygon points="79.50,420.50 86.00,419.50 88.50,461.50 81.00,461.50" fill="#ffee00"/><polygon points="84.50,419.50 99.00,416.50 99.00,435.50 93.00,438.00 86.00,438.00" fill="#10cc10"/><polygon points="83.50,425.50 87.00,425.50 87.00,438.00 83.50,438.00" fill="#b8e800"/><polygon points="80.50,438.00 93.00,438.00 93.00,461.50 81.75,461.50" fill="#ffee00"/><polygon points="90.50,438.00 110.75,435.50 110.75,464.00 90.50,464.00" fill="#10cc10"/><polygon points="94.25,418.00 99.00,416.50 99.00,430.00 95.00,430.00" fill="#00d0f8"/><polygon points="96.00,417.50 99.00,416.75 99.00,428.00 97.00,428.00" fill="#3090ff"/><polygon points="99.00,429.00 102.25,429.00 102.25,438.00 99.00,438.00" fill="#00d0f8"/><polygon points="105.00,435.00 110.75,435.00 110.75,450.00 105.50,450.00" fill="#3090ff"/><polygon points="100.50,440.50 105.50,440.50 105.50,450.00 100.50,450.00" fill="#00d0f8"/><polygon points="16.50,459.50 28.00,459.50 28.00,464.00 16.50,464.00" fill="#10cc10"/><polygon points="16.50,461.00 23.00,461.00 23.00,464.00 16.50,464.00" fill="#00d0f8"/><rect x="15.0" y="375.2" width="126.4" height="101.40000000000003" fill="url(#stp)"/></g></g><polygon points="114.00,413.00 117.00,413.00 117.00,426.00 114.00,426.00" fill="#00d0f8"/><polygon points="119.00,426.00 122.00,426.00 122.00,440.00 119.00,440.00" fill="#0050ff"/><polygon points="122.00,441.00 136.00,440.50 136.00,448.00 122.00,448.50" fill="#10cc10"/><polygon points="122.00,441.00 125.00,441.00 125.00,448.50 122.00,448.50" fill="#00d0f8"/><polygon points="133.00,440.00 136.00,440.00 136.00,457.50 133.00,457.50" fill="#3090ff"/><polygon points="19.25,385.50 20.00,385.50 20.00,410.50 19.25,410.50" fill="#a0c0ff"/></g>
<line x1="20.0" y1="442.64" x2="136.4" y2="442.64" stroke="#3030ff" stroke-opacity="0.45" stroke-width="1.9"/>
<rect x="20.0" y="380.2" width="116.40" height="91.40" fill="none" stroke="#b0b0b0" stroke-width="0.85"/>
<g font-size="5.4" fill="#333" text-anchor="end"><text x="17.80" y="473.50">0</text><text x="17.80" y="461.43">2</text><text x="17.80" y="449.37">4</text><text x="17.80" y="437.30">6</text><text x="17.80" y="425.24">8</text><text x="17.80" y="413.17">10</text><text x="17.80" y="401.10">12</text><text x="17.80" y="389.04">14</text></g>
<g stroke="#888" stroke-width="0.5"><line x1="19.0" y1="471.60" x2="20.0" y2="471.60"/><line x1="19.0" y1="459.53" x2="20.0" y2="459.53"/><line x1="19.0" y1="447.47" x2="20.0" y2="447.47"/><line x1="19.0" y1="435.40" x2="20.0" y2="435.40"/><line x1="19.0" y1="423.34" x2="20.0" y2="423.34"/><line x1="19.0" y1="411.27" x2="20.0" y2="411.27"/><line x1="19.0" y1="399.20" x2="20.0" y2="399.20"/><line x1="19.0" y1="387.14" x2="20.0" y2="387.14"/></g>
<text transform="translate(9.30,425.90) rotate(-90)" text-anchor="middle" font-size="7.2" fill="#333" textLength="34" lengthAdjust="spacingAndGlyphs">Height (km)</text>
<text x="22.90" y="389.40" font-size="9" fill="#222" stroke="#222" stroke-width="0.12" textLength="54" lengthAdjust="spacingAndGlyphs">202505040844</text>
<rect x="143.30" y="380.2" width="4.5" height="91.40" fill="url(#cb0)"/>
<g font-size="5.4" fill="#333"><text x="149.60" y="473.50">0</text><text x="149.60" y="461.39">10</text><text x="149.60" y="449.29">20</text><text x="149.60" y="437.18">30</text><text x="149.60" y="425.08">40</text><text x="149.60" y="412.97">50</text><text x="149.60" y="400.86">60</text><text x="149.60" y="388.76">70</text></g>
<g stroke="#666" stroke-width="0.5"><line x1="147.80" y1="471.60" x2="148.80" y2="471.60"/><line x1="147.80" y1="459.49" x2="148.80" y2="459.49"/><line x1="147.80" y1="447.39" x2="148.80" y2="447.39"/><line x1="147.80" y1="435.28" x2="148.80" y2="435.28"/><line x1="147.80" y1="423.18" x2="148.80" y2="423.18"/><line x1="147.80" y1="411.07" x2="148.80" y2="411.07"/><line x1="147.80" y1="398.96" x2="148.80" y2="398.96"/><line x1="147.80" y1="386.86" x2="148.80" y2="386.86"/></g>
<text transform="translate(157.80,426.70) rotate(90)" text-anchor="middle" font-size="7.4" fill="#333" textLength="28" lengthAdjust="spacingAndGlyphs">REF (dBZ)</text>
<polyline points="20.00,464.42 42.80,464.30 44.50,463.52 50.30,463.52 52.00,464.30 55.00,464.30 57.00,464.96 58.50,465.14 60.80,464.42 61.80,464.42 62.30,466.53 73.80,466.35 75.70,465.63 77.00,465.87 80.00,467.08 84.00,466.77 89.00,466.05 96.00,465.63 97.50,465.57 98.30,463.64 121.00,463.40 136.40,462.79" fill="none" stroke="#3c8c5c" stroke-width="0.75"/>
<polygon points="78.50,461.95 79.53,464.63 82.40,464.78 80.16,466.59 80.91,469.37 78.50,467.80 76.09,469.37 76.84,466.59 74.60,464.78 77.47,464.63" fill="#ff2a2a"/>
<text x="84.80" y="471.90" font-size="7" fill="#333" text-anchor="middle">A</text>
<text x="137.60" y="465.39" font-size="7.2" fill="#333">C</text>
<text x="137.60" y="445.34" font-size="7.2" fill="#333">B</text>
<g stroke="#ececec" stroke-width="0.9"><line x1="183.2" y1="459.53" x2="299.0" y2="459.53"/><line x1="183.2" y1="447.47" x2="299.0" y2="447.47"/><line x1="183.2" y1="435.40" x2="299.0" y2="435.40"/><line x1="183.2" y1="423.34" x2="299.0" y2="423.34"/><line x1="183.2" y1="411.27" x2="299.0" y2="411.27"/><line x1="183.2" y1="399.20" x2="299.0" y2="399.20"/><line x1="183.2" y1="387.14" x2="299.0" y2="387.14"/><line x1="206.43" y1="380.2" x2="206.43" y2="471.6"/><line x1="229.32" y1="380.2" x2="229.32" y2="471.6"/><line x1="252.20" y1="380.2" x2="252.20" y2="471.6"/><line x1="275.09" y1="380.2" x2="275.09" y2="471.6"/></g>
<g clip-path="url(#cp41)"><g clip-path="url(#env41)"><g filter="url(#bl)"><rect x="178.2" y="375.2" width="125.80000000000001" height="101.40000000000003" fill="#16f016"/><polygon points="196.00,408.00 201.00,406.75 201.00,438.00 196.00,438.00" fill="#58f048"/><polygon points="206.00,405.50 208.50,405.00 208.50,438.00 206.00,438.00" fill="#58f048"/><polygon points="214.50,401.75 217.50,401.00 217.50,419.25 215.00,419.25" fill="#ffe800"/><polygon points="228.00,397.50 231.50,396.50 231.50,419.25 228.50,419.25" fill="#ffe800"/><polygon points="229.00,397.00 231.50,396.50 231.50,403.00 229.50,403.00" fill="#ff9000"/><polygon points="179.50,442.50 206.00,443.50 226.00,442.00 231.00,443.50 231.00,464.00 179.50,464.00" fill="#ffe800"/><polygon points="179.50,446.75 206.00,445.50 226.00,446.00 228.50,464.00 179.50,464.00" fill="#ff9000"/><polygon points="179.50,450.50 206.00,449.25 224.75,450.00 226.00,464.00 179.50,464.00" fill="#ff1000"/><polygon points="186.00,458.00 190.00,458.00 190.00,464.00 186.00,464.00" fill="#f000f0"/><polygon points="192.00,452.00 196.00,452.00 196.00,461.00 192.00,461.00" fill="#f000f0"/><polygon points="205.00,456.00 213.00,456.00 213.00,464.00 205.00,464.00" fill="#f000f0"/><polygon points="235.50,423.00 237.50,423.00 237.50,435.50 235.50,435.50" fill="#ffe800"/><polygon points="233.00,442.00 240.50,442.00 240.50,452.00 233.00,452.00" fill="#d8d8d8"/><polygon points="234.50,443.50 238.50,443.50 238.50,450.00 234.50,450.00" fill="#f4f4f4"/><polygon points="242.00,420.00 262.00,416.75 262.00,438.00 243.50,443.00" fill="#ffe800"/><polygon points="244.75,420.00 260.50,417.50 260.50,434.25 246.50,436.75" fill="#ff9000"/><polygon points="246.50,420.50 258.50,418.50 259.00,431.75 248.00,433.50" fill="#ff1000"/><polygon points="249.00,420.00 253.50,419.50 253.50,432.00 249.50,432.00" fill="#f000f0"/><polygon points="254.50,418.00 256.50,417.50 256.50,422.00 254.50,422.00" fill="#f000f0"/><polygon points="241.00,420.50 245.50,420.50 245.50,464.00 241.00,464.00" fill="#16f016"/><polygon points="246.50,440.50 256.00,440.00 256.00,461.75 247.00,461.75" fill="#ffe800"/><polygon points="256.00,429.00 266.75,428.00 266.75,464.00 256.00,464.00" fill="#16f016"/><polygon points="251.00,443.00 254.75,443.00 254.75,461.75 251.00,461.75" fill="#58f048"/><polygon points="266.75,435.00 273.50,435.00 273.50,450.00 266.75,450.00" fill="#d8d8d8"/><polygon points="267.25,437.00 270.00,437.00 270.00,443.50 267.25,443.50" fill="#ffe800"/><rect x="178.2" y="375.2" width="125.80000000000001" height="101.40000000000003" fill="url(#stp)"/></g></g><polygon points="278.00,413.00 281.00,413.00 281.00,426.00 278.00,426.00" fill="#16f016"/><polygon points="290.00,440.00 299.00,439.50 299.00,448.00 290.00,448.50" fill="#16f016"/><polygon points="295.00,440.50 299.00,440.50 299.00,457.50 296.00,457.50" fill="#ffe800"/></g>
<line x1="183.2" y1="442.64" x2="299.0" y2="442.64" stroke="#3030ff" stroke-opacity="0.45" stroke-width="1.9"/>
<rect x="183.2" y="380.2" width="115.80" height="91.40" fill="none" stroke="#b0b0b0" stroke-width="0.85"/>
<g font-size="5.4" fill="#333" text-anchor="end"><text x="181.00" y="473.50">0</text><text x="181.00" y="461.43">2</text><text x="181.00" y="449.37">4</text><text x="181.00" y="437.30">6</text><text x="181.00" y="425.24">8</text><text x="181.00" y="413.17">10</text><text x="181.00" y="401.10">12</text><text x="181.00" y="389.04">14</text></g>
<g stroke="#888" stroke-width="0.5"><line x1="182.2" y1="471.60" x2="183.2" y2="471.60"/><line x1="182.2" y1="459.53" x2="183.2" y2="459.53"/><line x1="182.2" y1="447.47" x2="183.2" y2="447.47"/><line x1="182.2" y1="435.40" x2="183.2" y2="435.40"/><line x1="182.2" y1="423.34" x2="183.2" y2="423.34"/><line x1="182.2" y1="411.27" x2="183.2" y2="411.27"/><line x1="182.2" y1="399.20" x2="183.2" y2="399.20"/><line x1="182.2" y1="387.14" x2="183.2" y2="387.14"/></g>
<text transform="translate(172.50,425.90) rotate(-90)" text-anchor="middle" font-size="7.2" fill="#333" textLength="34" lengthAdjust="spacingAndGlyphs">Height (km)</text>
<text x="186.10" y="389.40" font-size="9" fill="#222" stroke="#222" stroke-width="0.12" textLength="54" lengthAdjust="spacingAndGlyphs">202505040844</text>
<rect x="305.90" y="380.2" width="4.5" height="91.40" fill="url(#cb1)"/>
<g font-size="5.4" fill="#333"><text x="312.20" y="473.50">-4</text><text x="312.20" y="453.19">-2</text><text x="312.20" y="432.88">0</text><text x="312.20" y="412.57">2</text><text x="312.20" y="392.26">4</text></g>
<g stroke="#666" stroke-width="0.5"><line x1="310.40" y1="471.60" x2="311.40" y2="471.60"/><line x1="310.40" y1="451.29" x2="311.40" y2="451.29"/><line x1="310.40" y1="430.98" x2="311.40" y2="430.98"/><line x1="310.40" y1="410.67" x2="311.40" y2="410.67"/><line x1="310.40" y1="390.36" x2="311.40" y2="390.36"/></g>
<text transform="translate(319.30,428.90) rotate(90)" text-anchor="middle" font-size="7.4" fill="#333" textLength="13" lengthAdjust="spacingAndGlyphs">ZDR</text>
<polyline points="183.20,464.42 206.00,464.30 207.70,463.52 213.50,463.52 215.20,464.30 218.20,464.30 220.20,464.96 221.70,465.14 224.00,464.42 225.00,464.42 225.50,466.53 237.00,466.35 238.90,465.63 240.20,465.87 243.20,467.08 247.20,466.77 252.20,466.05 259.20,465.63 260.70,465.57 261.50,463.64 284.20,463.40 299.60,462.79" fill="none" stroke="#3c8c5c" stroke-width="0.75"/>
<polygon points="241.70,461.95 242.73,464.63 245.60,464.78 243.36,466.59 244.11,469.37 241.70,467.80 239.29,469.37 240.04,466.59 237.80,464.78 240.67,464.63" fill="#ff2a2a"/>
<text x="248.00" y="471.90" font-size="7" fill="#333" text-anchor="middle">A</text>
<text x="300.20" y="465.39" font-size="7.2" fill="#333">C</text>
<text x="300.20" y="445.34" font-size="7.2" fill="#333">B</text>
<g stroke="#ececec" stroke-width="0.9"><line x1="345.2" y1="459.53" x2="461.6" y2="459.53"/><line x1="345.2" y1="447.47" x2="461.6" y2="447.47"/><line x1="345.2" y1="435.40" x2="461.6" y2="435.40"/><line x1="345.2" y1="423.34" x2="461.6" y2="423.34"/><line x1="345.2" y1="411.27" x2="461.6" y2="411.27"/><line x1="345.2" y1="399.20" x2="461.6" y2="399.20"/><line x1="345.2" y1="387.14" x2="461.6" y2="387.14"/><line x1="368.55" y1="380.2" x2="368.55" y2="471.6"/><line x1="391.55" y1="380.2" x2="391.55" y2="471.6"/><line x1="414.56" y1="380.2" x2="414.56" y2="471.6"/><line x1="437.56" y1="380.2" x2="437.56" y2="471.6"/></g>
<g clip-path="url(#cp42)"><g clip-path="url(#env42)"><g filter="url(#bl)"><rect x="340.2" y="375.2" width="126.40000000000003" height="101.40000000000003" fill="#00d800"/><polygon points="350.50,409.25 387.50,397.50 388.00,404.25 373.00,410.50 358.00,414.25 350.50,415.00" fill="#28a8c8"/><polygon points="373.00,402.50 383.00,399.50 383.00,404.25 374.25,406.00" fill="#40c8f0"/><polygon points="355.00,418.00 373.00,415.50 385.50,418.00 386.75,439.25 368.00,440.50 355.00,440.50" fill="#00a000"/><polygon points="360.50,428.00 370.50,426.75 370.50,439.25 360.50,440.00" fill="#008a00"/><polygon points="375.50,420.50 380.50,420.00 380.50,438.00 375.50,438.00" fill="#008a00"/><polygon points="350.00,464.00 350.50,450.50 355.50,443.50 365.50,439.50 378.00,439.00 383.00,442.50 384.50,456.50 384.00,464.00" fill="#ffffff"/><polygon points="352.50,464.00 353.00,451.00 357.50,445.00 366.00,441.00 377.50,441.00 381.50,444.00 382.50,456.50 382.00,464.00" fill="#ff2020"/><polygon points="365.50,445.00 378.00,444.25 379.25,457.75 366.75,458.50" fill="#ff9090"/><polygon points="383.00,440.50 393.00,440.50 393.00,464.00 383.00,464.00" fill="#00a000"/><polygon points="410.50,424.25 416.75,423.00 416.75,435.50 411.00,436.00" fill="#28a8c8"/><polygon points="398.00,440.50 432.50,440.50 432.50,464.00 398.00,464.00" fill="#00a000"/><rect x="340.2" y="375.2" width="126.40000000000003" height="101.40000000000003" fill="url(#stp)"/></g></g><polygon points="441.00,413.00 444.00,413.00 444.00,427.00 441.00,427.00" fill="#00d800"/><polygon points="449.00,441.00 463.00,440.50 463.00,449.00 449.00,449.00" fill="#00d800"/><polygon points="459.00,449.00 461.00,449.00 461.00,457.25 459.00,457.25" fill="#00d800"/></g>
<line x1="345.2" y1="442.64" x2="461.6" y2="442.64" stroke="#3030ff" stroke-opacity="0.45" stroke-width="1.9"/>
<rect x="345.2" y="380.2" width="116.40" height="91.40" fill="none" stroke="#b0b0b0" stroke-width="0.85"/>
<g font-size="5.4" fill="#333" text-anchor="end"><text x="343.00" y="473.50">0</text><text x="343.00" y="461.43">2</text><text x="343.00" y="449.37">4</text><text x="343.00" y="437.30">6</text><text x="343.00" y="425.24">8</text><text x="343.00" y="413.17">10</text><text x="343.00" y="401.10">12</text><text x="343.00" y="389.04">14</text></g>
<g stroke="#888" stroke-width="0.5"><line x1="344.2" y1="471.60" x2="345.2" y2="471.60"/><line x1="344.2" y1="459.53" x2="345.2" y2="459.53"/><line x1="344.2" y1="447.47" x2="345.2" y2="447.47"/><line x1="344.2" y1="435.40" x2="345.2" y2="435.40"/><line x1="344.2" y1="423.34" x2="345.2" y2="423.34"/><line x1="344.2" y1="411.27" x2="345.2" y2="411.27"/><line x1="344.2" y1="399.20" x2="345.2" y2="399.20"/><line x1="344.2" y1="387.14" x2="345.2" y2="387.14"/></g>
<text transform="translate(334.50,425.90) rotate(-90)" text-anchor="middle" font-size="7.2" fill="#333" textLength="34" lengthAdjust="spacingAndGlyphs">Height (km)</text>
<text x="348.10" y="389.40" font-size="9" fill="#222" stroke="#222" stroke-width="0.12" textLength="54" lengthAdjust="spacingAndGlyphs">202505040844</text>
<rect x="468.50" y="380.2" width="4.5" height="91.40" fill="url(#cb2)"/>
<g font-size="5.4" fill="#333"><text x="474.80" y="466.25">-30</text><text x="474.80" y="451.74">-20</text><text x="474.80" y="437.23">-10</text><text x="474.80" y="422.72">0</text><text x="474.80" y="408.21">10</text><text x="474.80" y="393.71">20</text></g>
<g stroke="#666" stroke-width="0.5"><line x1="473.00" y1="464.35" x2="474.00" y2="464.35"/><line x1="473.00" y1="449.84" x2="474.00" y2="449.84"/><line x1="473.00" y1="435.33" x2="474.00" y2="435.33"/><line x1="473.00" y1="420.82" x2="474.00" y2="420.82"/><line x1="473.00" y1="406.31" x2="474.00" y2="406.31"/><line x1="473.00" y1="391.81" x2="474.00" y2="391.81"/></g>
<text transform="translate(487.40,428.90) rotate(90)" text-anchor="middle" font-size="7.4" fill="#333" textLength="33" lengthAdjust="spacingAndGlyphs">VEL ( m/s )</text>
<polyline points="345.20,464.42 368.00,464.30 369.70,463.52 375.50,463.52 377.20,464.30 380.20,464.30 382.20,464.96 383.70,465.14 386.00,464.42 387.00,464.42 387.50,466.53 399.00,466.35 400.90,465.63 402.20,465.87 405.20,467.08 409.20,466.77 414.20,466.05 421.20,465.63 422.70,465.57 423.50,463.64 446.20,463.40 461.60,462.79" fill="none" stroke="#3c8c5c" stroke-width="0.75"/>
<polygon points="403.70,461.95 404.73,464.63 407.60,464.78 405.36,466.59 406.11,469.37 403.70,467.80 401.29,469.37 402.04,466.59 399.80,464.78 402.67,464.63" fill="#ff2a2a"/>
<text x="410.00" y="471.90" font-size="7" fill="#333" text-anchor="middle">A</text>
<text x="462.80" y="465.39" font-size="7.2" fill="#333">C</text>
<text x="462.80" y="445.34" font-size="7.2" fill="#333">B</text>
<g font-size="5.4" fill="#333" text-anchor="middle"><text x="20.34" y="478.40">48.5</text><text x="43.35" y="478.40">55.2</text><text x="66.35" y="478.40">61.9</text><text x="89.36" y="478.40">68.6</text><text x="112.36" y="478.40">75.3</text><text x="135.37" y="478.40">82</text></g>
<text x="78.20" y="486.10" font-size="7.2" fill="#333" text-anchor="middle">Distance (km)</text>
<g font-size="5.4" fill="#333" text-anchor="middle"><text x="183.54" y="478.40">48.5</text><text x="206.43" y="478.40">55.2</text><text x="229.32" y="478.40">61.9</text><text x="252.20" y="478.40">68.6</text><text x="275.09" y="478.40">75.3</text><text x="297.98" y="478.40">82</text></g>
<text x="241.10" y="486.10" font-size="7.2" fill="#333" text-anchor="middle">Distance (km)</text>
<g font-size="5.4" fill="#333" text-anchor="middle"><text x="345.54" y="478.40">48.5</text><text x="368.55" y="478.40">55.2</text><text x="391.55" y="478.40">61.9</text><text x="414.56" y="478.40">68.6</text><text x="437.56" y="478.40">75.3</text><text x="460.57" y="478.40">82</text></g>
<text x="403.40" y="486.10" font-size="7.2" fill="#333" text-anchor="middle">Distance (km)</text>
</svg></body></html>
